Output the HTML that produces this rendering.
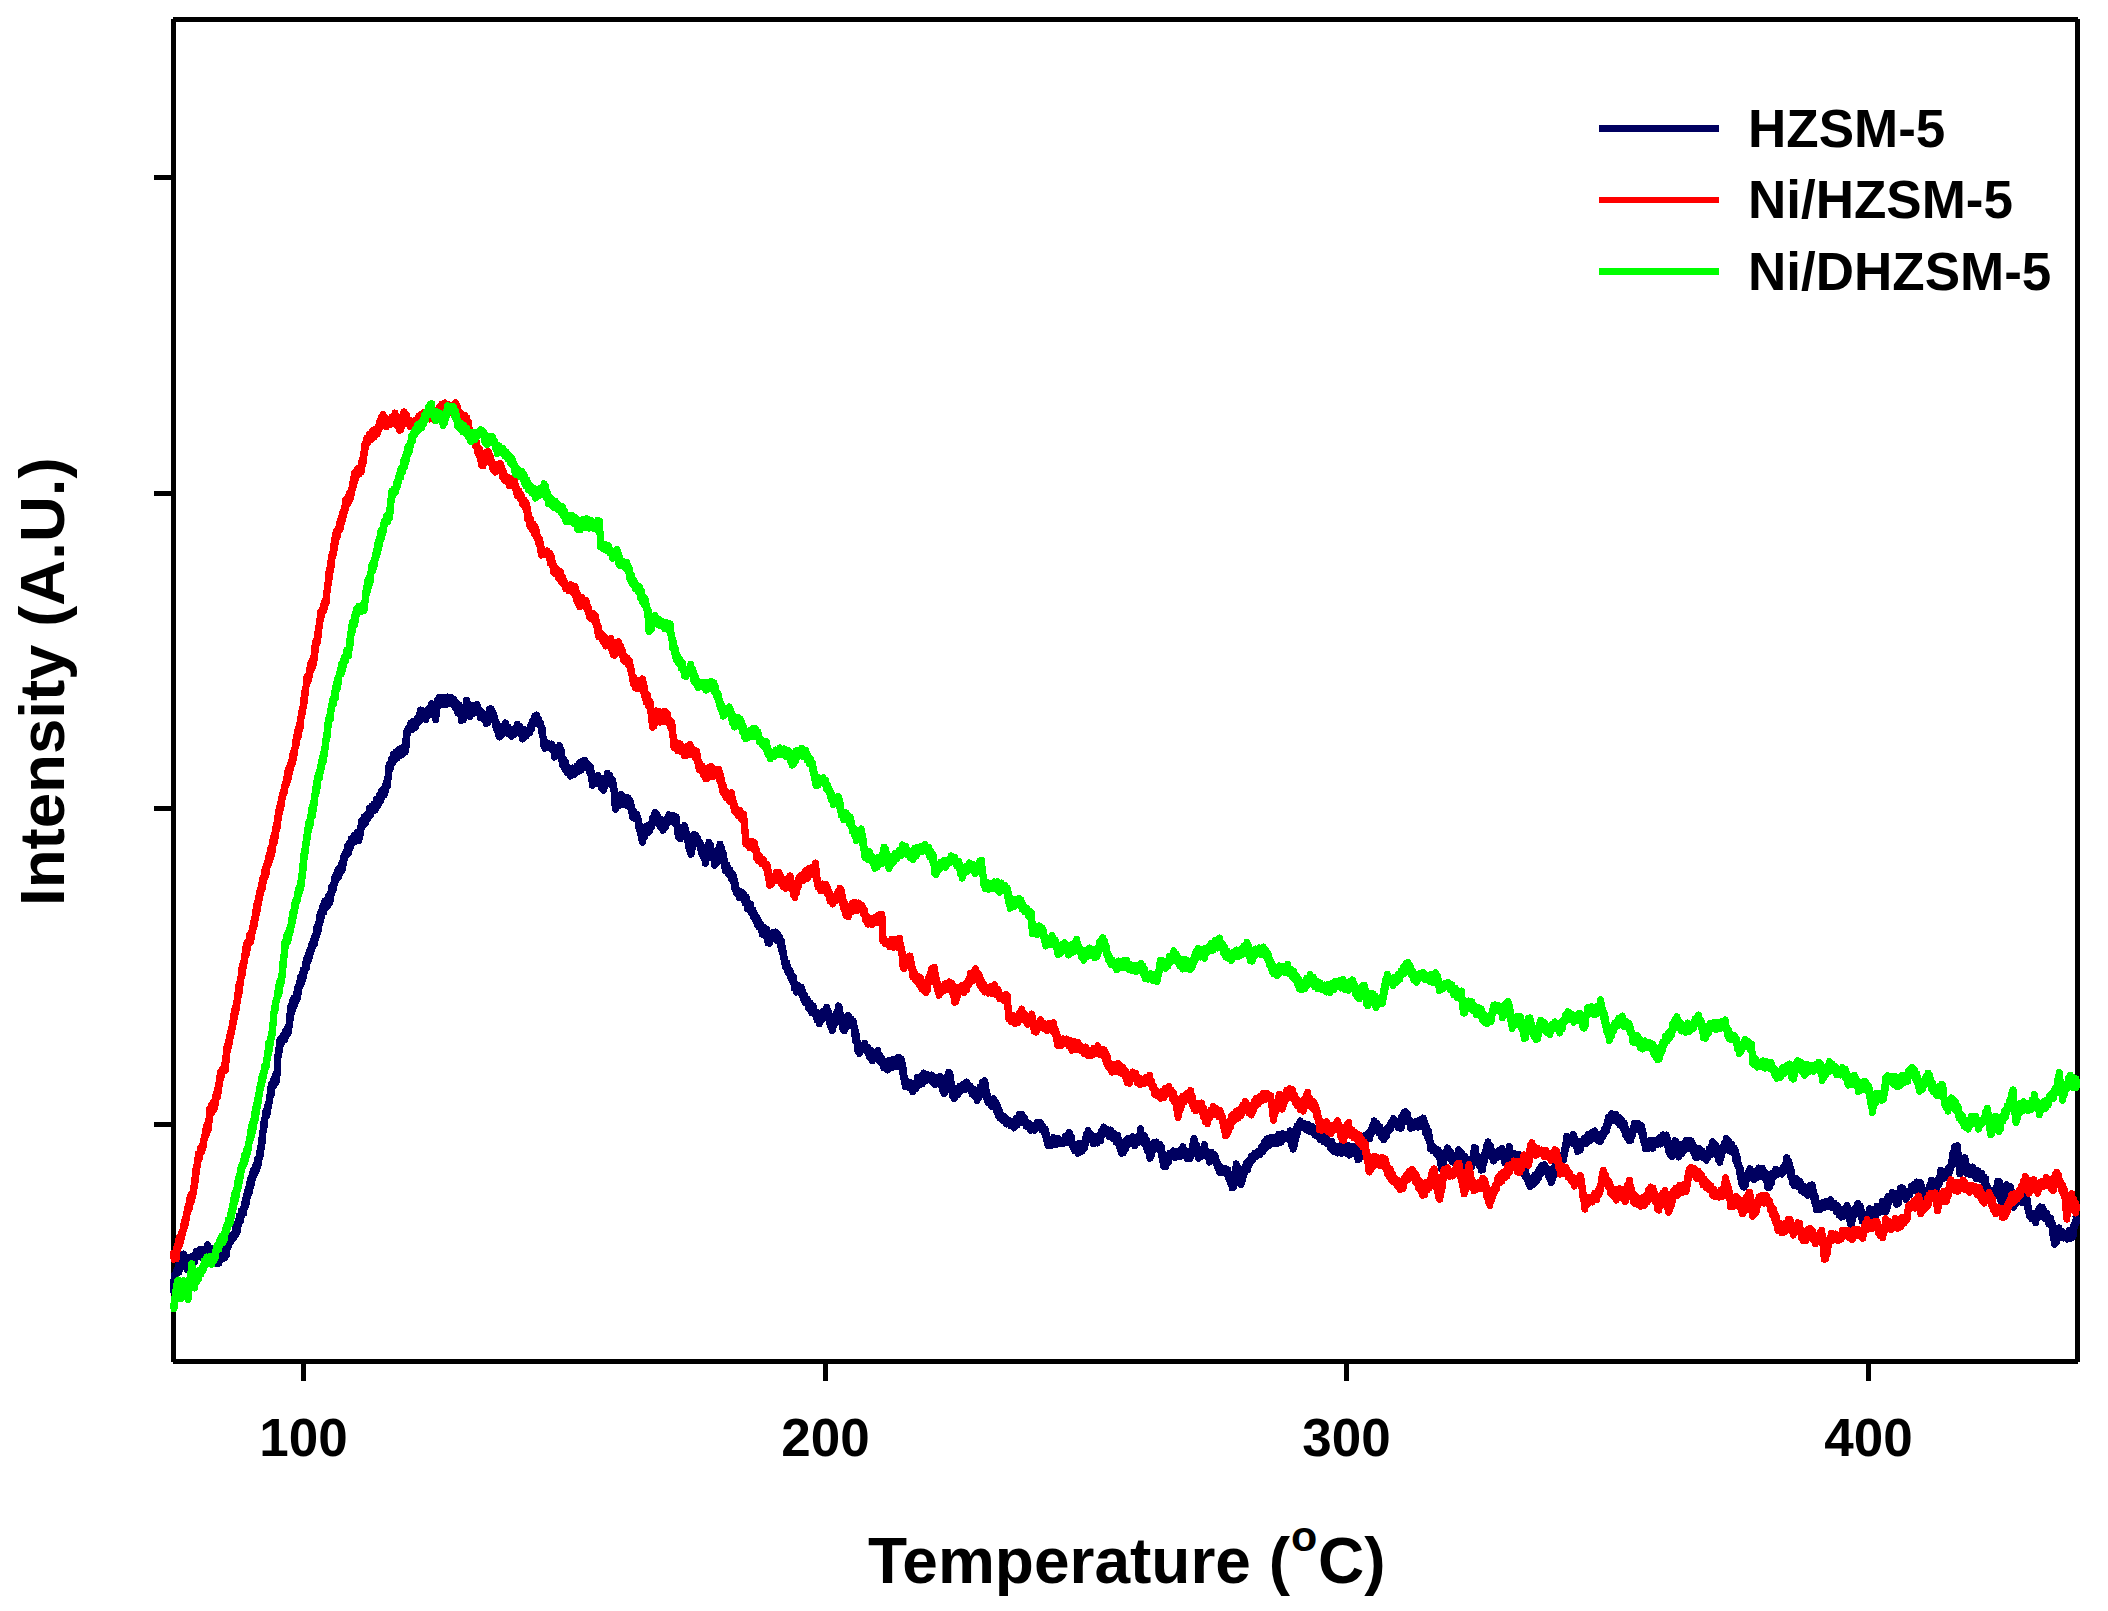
<!DOCTYPE html>
<html lang="en">
<head>
<meta charset="utf-8">
<title>NH3-TPD profiles</title>
<style>
html,body{margin:0;padding:0;background:#fff;}
body{width:2108px;height:1611px;overflow:hidden;}
svg{display:block;}
text{font-family:"Liberation Sans",Arial,Helvetica,sans-serif;font-weight:700;fill:#000;}
.tick{font-size:53px;}
.leg{font-size:53px;}
.ax{font-size:63px;}
.curve{fill:none;stroke-width:7;stroke-linejoin:round;stroke-linecap:round;}
</style>
</head>
<body>
<svg width="2108" height="1611" viewBox="0 0 2108 1611">
<rect x="0" y="0" width="2108" height="1611" fill="#ffffff"/>
<!-- frame -->
<g shape-rendering="crispEdges" fill="#000">
<rect x="173" y="17" width="1905" height="5"/>
<rect x="173" y="1359" width="1905" height="5"/>
<rect x="171" y="19" width="5" height="1343"/>
<rect x="2075" y="19" width="5" height="1343"/>
<!-- y ticks -->
<rect x="154" y="175" width="18" height="5"/>
<rect x="154" y="491" width="18" height="5"/>
<rect x="154" y="806" width="18" height="5"/>
<rect x="154" y="1122" width="18" height="5"/>
<!-- x ticks -->
<rect x="301" y="1363" width="5" height="18"/>
<rect x="823" y="1363" width="5" height="18"/>
<rect x="1344" y="1363" width="5" height="18"/>
<rect x="1866" y="1363" width="5" height="18"/>
</g>
<!-- curves -->
<g shape-rendering="crispEdges">
<polyline class="curve" stroke="#000060" points="173.5,1287.3 173.5,1291.3 173.5,1283.5 173.5,1287.7 173.6,1281.0 174.1,1283.1 174.6,1275.2 175.4,1280.9 176.3,1271.2 177.3,1273.0 178.3,1265.3 179.0,1272.0 179.5,1260.9 180.0,1267.3 180.6,1258.5 181.1,1263.7 181.6,1255.1 182.2,1259.4 183.5,1254.0 185.0,1260.9 185.4,1256.8 185.7,1265.5 186.1,1261.5 186.5,1267.7 186.8,1262.1 187.4,1269.7 188.3,1260.6 189.1,1264.7 189.9,1257.0 190.9,1263.0 192.6,1256.0 194.3,1262.5 196.2,1251.2 198.0,1256.5 199.9,1249.5 201.8,1257.6 203.7,1249.5 205.6,1253.4 207.5,1244.7 208.9,1253.4 210.1,1247.9 211.1,1258.1 212.1,1251.8 213.1,1260.6 214.1,1255.8 216.0,1263.8 217.9,1259.7 218.9,1263.3 220.0,1254.9 221.3,1259.1 222.9,1253.2 224.5,1258.0 225.5,1248.3 226.4,1255.4 227.2,1246.6 228.0,1247.5 229.3,1238.2 230.7,1241.8 232.0,1235.5 233.4,1238.6 234.5,1232.5 235.1,1235.0 235.7,1227.7 236.2,1234.3 236.8,1224.4 237.4,1231.3 238.0,1221.2 238.5,1225.4 239.2,1215.8 240.2,1221.9 241.2,1210.9 242.2,1215.2 243.0,1208.4 243.7,1213.4 244.4,1203.0 245.0,1207.8 245.7,1198.5 246.3,1203.3 246.9,1193.6 247.3,1197.2 247.8,1190.3 248.3,1194.5 248.8,1187.0 249.3,1192.2 249.8,1182.6 250.4,1187.6 251.0,1177.5 251.7,1183.8 252.3,1173.0 252.9,1178.9 253.5,1169.7 254.2,1175.1 255.2,1166.0 256.2,1171.0 257.2,1159.8 258.0,1166.8 258.4,1158.2 258.9,1160.3 259.3,1152.0 259.7,1157.8 260.1,1149.2 260.5,1154.7 260.9,1145.5 261.4,1148.4 261.7,1139.2 262.0,1142.1 262.2,1135.7 262.5,1141.6 262.7,1131.7 262.9,1135.7 263.2,1127.8 263.5,1130.8 263.8,1122.3 264.2,1126.7 264.5,1120.6 264.8,1122.8 265.2,1112.9 265.5,1117.2 266.0,1111.0 266.5,1116.4 267.1,1106.5 267.6,1113.1 268.1,1103.5 268.7,1107.1 269.2,1098.4 269.7,1101.5 270.1,1092.0 270.5,1095.9 270.9,1086.8 271.4,1094.0 271.8,1083.8 272.2,1087.9 273.1,1080.4 274.1,1085.5 275.1,1075.3 276.1,1082.4 276.9,1072.1 277.0,1078.7 277.1,1069.2 277.2,1074.6 277.3,1062.6 277.3,1067.0 277.4,1060.3 277.5,1063.9 277.6,1055.7 277.9,1058.9 278.3,1051.5 278.6,1055.7 279.0,1047.5 279.4,1051.3 279.7,1040.4 280.5,1045.3 281.4,1038.2 282.4,1042.2 283.4,1034.8 284.4,1040.3 285.4,1031.0 286.4,1035.9 287.4,1028.1 288.3,1033.1 289.1,1023.1 289.3,1026.2 289.5,1018.7 289.8,1023.6 290.0,1013.3 290.3,1019.2 290.5,1006.9 291.3,1013.8 292.1,1001.8 293.0,1009.2 293.8,997.9 294.6,1005.2 295.2,997.2 295.9,1001.5 296.5,992.9 297.2,999.0 297.8,987.1 298.5,992.9 299.1,982.3 299.8,987.0 300.4,976.9 301.1,983.9 301.7,975.3 302.4,980.0 303.1,969.9 303.7,976.4 304.4,968.7 305.0,971.1 305.7,962.7 306.3,968.2 307.0,957.4 307.6,962.1 308.3,954.1 309.0,959.3 309.7,951.2 310.4,953.3 311.1,945.7 311.9,949.9 312.6,943.1 313.3,946.1 314.0,937.9 314.8,943.4 315.5,935.5 316.1,937.2 316.6,928.2 317.2,934.3 317.7,925.8 318.2,930.4 318.8,922.0 319.3,924.8 319.8,915.3 320.4,921.2 320.9,911.7 321.9,916.5 322.8,906.2 323.8,912.5 324.8,901.3 325.7,908.0 326.7,899.7 327.7,906.0 328.6,896.0 329.4,903.5 330.1,893.2 330.8,899.2 331.5,887.2 332.2,892.3 332.9,884.9 333.6,889.2 334.3,878.4 334.9,883.8 335.9,874.7 336.9,879.0 337.9,869.7 338.9,877.1 339.9,867.5 340.7,871.7 341.4,863.7 342.1,869.9 342.7,861.9 343.4,864.7 344.0,855.6 344.7,859.1 345.4,852.7 346.3,855.4 347.3,846.4 348.3,853.6 349.2,843.0 350.2,848.7 351.2,838.8 352.6,843.6 354.3,835.5 356.0,841.4 357.6,832.3 359.0,840.5 359.5,830.9 360.0,836.2 360.6,827.0 361.1,830.0 361.7,821.2 362.6,826.3 364.0,817.2 365.3,823.8 366.7,814.6 368.0,818.8 369.4,808.0 370.6,815.6 371.8,806.3 372.9,811.3 374.0,803.9 375.1,810.4 376.4,799.6 378.1,805.7 379.8,794.5 380.8,800.9 381.6,790.5 382.4,796.9 383.3,789.5 384.1,795.2 385.0,785.8 385.8,791.0 386.7,781.6 387.5,785.8 387.8,777.6 388.0,780.7 388.2,773.2 388.4,776.9 388.6,769.8 388.8,771.9 389.0,764.8 390.0,769.7 391.2,759.3 392.4,763.5 393.6,754.0 394.8,759.8 396.0,751.9 397.5,757.9 399.5,748.9 401.6,755.1 403.7,746.5 405.1,752.4 405.4,742.3 405.7,748.6 405.9,739.1 406.2,746.9 406.5,738.2 406.8,739.9 407.0,730.3 407.4,735.1 408.5,728.3 409.6,730.5 410.7,723.0 411.8,729.7 413.7,721.1 415.7,727.2 417.7,717.7 418.6,722.3 419.3,714.2 420.0,720.7 420.7,709.9 422.0,716.5 424.0,711.0 425.9,719.7 427.5,709.9 428.5,715.2 429.5,707.7 430.5,712.6 431.5,703.7 432.3,711.4 433.2,708.6 434.1,715.9 434.9,711.9 435.6,719.6 436.0,708.4 436.4,714.9 436.9,704.0 437.3,707.3 437.7,699.5 438.2,704.6 439.4,697.5 441.4,704.8 443.4,697.5 445.3,704.9 447.3,697.0 449.2,703.1 451.1,697.3 453.0,704.6 454.2,699.6 455.4,707.7 456.6,703.2 457.9,712.8 459.1,704.9 459.9,714.6 460.7,710.5 461.5,720.6 462.4,714.4 463.1,720.0 463.7,711.2 464.4,716.3 465.1,707.2 465.7,709.7 466.4,700.1 467.5,710.6 468.8,704.4 470.1,716.6 471.5,709.4 473.1,713.9 474.7,705.4 476.0,711.9 477.1,704.4 478.2,712.6 479.3,709.2 480.6,717.7 482.0,712.1 483.4,719.1 484.8,716.1 486.3,723.8 486.9,715.4 487.6,722.7 488.2,713.1 488.9,717.7 489.5,709.0 490.2,712.8 491.2,708.8 492.1,717.4 493.0,712.5 493.9,720.3 494.8,717.4 495.6,726.4 496.3,721.9 497.0,730.3 497.7,725.9 498.3,734.7 499.0,727.8 499.7,737.1 500.7,731.5 501.9,734.6 503.1,726.0 504.3,732.5 505.5,722.8 506.7,732.7 507.9,726.6 509.1,734.2 510.3,729.4 511.5,736.4 512.7,731.7 513.9,734.8 515.1,728.8 516.3,733.1 517.5,724.2 518.6,732.1 519.6,726.1 520.6,734.3 521.6,731.1 522.6,739.0 524.3,729.5 526.1,736.2 527.9,730.1 529.6,732.6 530.6,725.5 531.6,729.5 532.6,721.2 533.6,724.3 534.7,716.2 535.7,723.7 536.7,715.0 537.6,723.6 538.6,718.4 539.6,725.5 540.6,722.4 541.2,729.3 541.6,726.6 542.1,735.5 542.5,729.3 543.0,738.3 543.4,737.4 543.9,746.7 544.3,742.1 545.1,748.4 547.3,742.9 549.4,747.7 551.5,744.0 552.5,749.7 553.5,746.9 554.5,757.2 556.1,747.8 557.8,753.0 559.5,745.3 560.1,753.4 560.5,748.5 560.8,756.0 561.1,749.6 561.5,759.5 561.8,754.4 562.5,764.7 563.6,758.4 564.7,768.7 565.8,762.4 566.9,772.7 568.1,768.1 570.2,776.3 572.4,768.0 574.6,774.2 576.8,766.1 578.2,771.7 579.5,762.9 580.9,770.3 582.2,761.2 583.6,764.9 584.9,760.1 586.3,767.4 587.7,764.1 589.1,771.3 590.2,766.1 590.6,774.0 591.1,770.5 591.5,779.7 592.0,775.9 592.4,785.4 594.1,779.6 596.1,783.5 598.1,775.4 599.4,783.7 600.5,778.1 601.6,787.8 602.6,780.7 603.7,790.4 604.6,783.0 605.3,786.2 606.0,777.8 606.7,782.5 607.5,773.1 608.6,780.4 609.8,775.1 611.0,784.2 612.3,779.3 613.5,790.3 613.9,784.7 614.1,794.2 614.2,789.1 614.4,798.5 614.5,793.5 614.7,802.3 614.9,798.4 615.0,805.8 615.2,801.0 615.5,809.3 616.7,799.4 617.9,806.0 619.1,799.4 620.3,805.0 621.5,794.4 622.9,802.8 624.6,797.3 626.2,805.2 627.9,797.8 629.3,806.6 630.2,800.4 631.1,811.1 631.9,806.9 632.8,817.5 633.8,810.9 635.3,818.7 636.8,814.0 638.1,821.8 638.5,819.4 638.9,828.3 639.3,824.4 639.7,830.1 640.1,827.9 640.5,834.1 640.9,830.2 641.3,838.3 641.7,834.7 642.5,842.4 643.7,830.7 644.8,837.2 646.0,826.8 647.2,833.4 648.4,825.6 649.5,831.7 650.6,823.9 651.7,827.1 652.7,817.6 653.8,820.0 654.9,812.4 655.9,820.4 657.1,814.4 658.2,823.8 659.4,818.3 660.6,827.2 661.7,819.7 662.9,830.4 664.1,825.1 665.3,827.9 666.5,819.4 667.7,822.9 669.0,814.7 670.3,821.6 672.5,815.2 674.7,823.2 676.1,816.9 676.5,824.7 676.9,820.6 677.2,831.0 677.6,825.9 677.9,834.0 678.3,828.7 678.7,836.9 679.1,831.7 680.5,838.8 681.9,830.1 683.2,834.9 684.6,825.5 685.4,833.9 685.9,829.1 686.5,837.5 687.0,833.2 687.6,840.9 688.1,835.8 688.6,847.3 689.2,841.0 689.7,850.4 690.3,845.7 690.8,854.2 691.4,847.0 691.8,853.0 692.3,844.2 692.8,847.6 693.3,838.6 693.8,844.3 694.3,834.4 694.7,842.2 695.5,834.8 696.6,841.6 697.7,837.9 698.7,844.1 699.8,842.3 700.5,849.1 701.2,844.3 702.0,854.3 702.8,847.9 703.7,857.7 704.5,855.3 705.3,863.3 706.0,851.9 706.8,859.1 707.5,850.4 708.3,852.2 709.0,842.2 709.8,851.2 710.6,844.6 711.4,855.1 712.2,850.8 713.0,857.9 713.8,853.9 714.6,865.4 715.4,856.3 716.2,863.7 716.9,855.6 717.7,858.7 718.4,849.6 719.2,856.4 720.0,844.1 720.6,851.5 721.2,847.1 721.8,856.2 722.4,851.5 723.0,861.0 723.6,854.5 724.2,866.1 724.8,860.6 725.5,870.9 727.0,864.9 728.4,874.1 729.9,869.8 731.3,878.4 732.6,873.8 733.0,881.3 733.5,875.9 734.0,883.9 734.4,879.3 734.9,889.3 735.3,883.8 736.2,893.0 737.7,889.9 739.3,897.9 740.9,891.6 742.4,898.4 743.9,893.9 745.1,903.2 746.2,897.0 747.4,908.5 748.5,902.6 749.7,909.9 750.7,904.2 751.7,913.4 752.7,909.4 753.7,917.5 754.6,913.3 755.6,920.6 756.5,916.3 757.4,925.3 758.4,920.0 759.3,927.3 760.5,924.1 762.3,934.3 764.2,927.6 766.0,936.1 766.7,929.3 767.1,937.6 767.6,935.3 768.0,943.0 768.5,939.8 769.7,943.3 770.8,935.3 771.9,938.7 773.1,932.7 774.2,935.9 775.3,932.0 776.5,940.1 777.6,933.5 778.7,940.8 779.9,937.0 780.8,946.7 781.3,940.6 781.7,949.9 782.1,945.4 782.6,952.9 783.0,949.6 783.4,958.3 783.8,954.7 784.3,962.9 784.7,958.5 785.7,967.4 786.8,962.7 788.0,972.7 789.1,969.1 790.2,976.6 791.1,973.0 791.7,979.6 792.3,975.2 793.0,982.2 793.6,976.7 794.2,988.2 794.8,983.0 796.3,992.2 798.3,985.5 800.2,992.5 801.1,987.0 802.0,995.4 802.9,991.7 803.9,1000.1 804.8,995.3 805.7,1003.0 807.1,998.8 808.6,1008.4 810.2,1002.7 811.8,1012.7 813.4,1006.1 814.8,1014.6 815.9,1011.7 817.1,1020.1 818.2,1014.8 819.3,1023.9 820.8,1013.0 822.3,1019.5 823.8,1011.3 825.4,1016.7 826.9,1007.1 827.9,1014.0 828.5,1011.3 829.0,1019.5 829.5,1016.2 830.0,1024.8 830.5,1017.7 831.1,1027.8 831.6,1022.7 832.3,1030.4 833.2,1021.6 834.1,1025.5 834.9,1016.3 835.8,1018.3 836.7,1012.1 837.5,1014.6 838.4,1005.7 839.2,1012.3 839.8,1008.3 840.4,1017.8 841.1,1014.2 841.7,1023.6 842.3,1018.6 842.9,1029.0 843.6,1022.6 844.3,1030.9 845.1,1019.9 845.9,1027.4 846.7,1018.4 847.5,1021.6 848.4,1015.5 849.6,1023.4 850.7,1018.4 851.9,1025.9 853.0,1020.7 854.2,1028.4 854.6,1026.7 855.0,1036.4 855.4,1030.6 855.7,1041.1 856.1,1033.9 856.5,1041.9 856.8,1037.0 857.2,1044.1 857.6,1042.0 857.9,1051.3 858.3,1046.2 859.7,1053.6 861.4,1045.5 863.1,1049.2 864.7,1043.3 866.2,1050.9 867.8,1047.1 869.3,1057.2 870.8,1050.1 872.6,1060.8 874.6,1052.7 876.7,1057.6 877.8,1050.4 878.8,1060.3 879.9,1055.6 881.0,1062.4 882.0,1058.3 883.9,1067.8 885.7,1065.2 887.6,1070.0 889.6,1060.1 891.6,1067.9 893.7,1059.3 895.9,1066.8 898.1,1057.0 900.3,1065.7 901.2,1058.9 901.7,1068.1 902.1,1062.5 902.6,1072.8 903.0,1066.9 903.5,1078.0 903.9,1072.5 904.4,1083.3 904.8,1078.2 905.3,1086.4 906.2,1080.8 908.4,1087.1 910.6,1082.4 912.7,1091.9 914.6,1083.5 916.1,1088.5 917.6,1077.3 919.1,1085.0 920.6,1076.7 922.1,1084.0 923.7,1073.0 925.9,1080.9 928.1,1075.0 930.3,1080.1 931.8,1075.0 933.1,1082.7 934.3,1076.9 935.5,1084.5 937.2,1077.8 939.0,1084.2 940.6,1076.4 941.3,1085.7 941.9,1080.2 942.6,1090.2 943.2,1084.1 943.9,1093.5 944.5,1088.1 945.1,1092.8 945.6,1085.9 946.2,1088.1 946.7,1080.0 947.3,1084.9 947.8,1075.8 948.3,1078.1 948.9,1072.2 949.4,1078.4 949.8,1073.9 950.2,1084.6 950.5,1076.4 950.9,1086.1 951.3,1082.9 951.7,1089.4 952.1,1086.1 952.5,1096.3 952.9,1091.2 954.2,1098.8 956.1,1089.0 958.0,1095.0 959.9,1086.3 961.5,1090.3 963.2,1084.2 964.8,1089.6 966.5,1081.9 968.4,1088.8 970.3,1086.1 972.1,1094.2 973.6,1089.0 974.8,1096.1 975.9,1092.8 977.1,1100.7 978.2,1093.2 979.3,1097.2 980.3,1086.8 981.4,1093.4 982.4,1082.2 983.5,1086.9 984.5,1080.7 985.0,1090.9 985.5,1084.2 986.0,1093.6 986.5,1090.8 987.0,1099.5 987.5,1094.9 988.0,1102.6 989.4,1098.8 991.4,1106.3 993.4,1098.6 995.3,1106.3 996.3,1102.7 996.9,1112.4 997.6,1105.9 998.3,1115.7 999.0,1109.3 999.9,1118.1 1001.5,1114.5 1003.1,1120.7 1004.7,1116.7 1006.6,1124.1 1008.5,1120.0 1010.5,1125.8 1012.4,1122.1 1014.1,1128.0 1015.8,1118.7 1017.4,1124.9 1019.1,1114.3 1020.7,1120.0 1022.0,1114.3 1023.3,1122.9 1024.6,1118.2 1026.3,1126.3 1028.5,1122.9 1030.7,1130.3 1032.8,1125.5 1034.8,1130.2 1036.9,1122.4 1038.9,1127.4 1040.4,1122.5 1041.7,1129.9 1042.9,1126.0 1044.2,1133.0 1045.2,1128.8 1045.9,1137.3 1046.5,1133.7 1047.1,1143.1 1047.7,1139.2 1048.4,1145.5 1049.2,1140.2 1051.3,1145.7 1053.5,1137.5 1055.6,1144.8 1057.7,1138.2 1059.9,1143.8 1062.0,1140.5 1063.8,1143.2 1065.6,1135.9 1067.4,1142.4 1069.2,1132.3 1070.5,1141.9 1071.6,1137.2 1072.7,1146.7 1073.8,1143.7 1074.9,1150.8 1076.1,1145.6 1077.9,1153.5 1080.0,1143.1 1082.2,1151.2 1084.1,1142.4 1084.7,1147.5 1085.4,1138.5 1086.0,1143.4 1086.7,1134.2 1087.3,1140.0 1088.2,1130.6 1089.9,1139.8 1091.6,1134.7 1093.3,1143.9 1095.2,1136.1 1097.3,1143.0 1099.4,1134.9 1100.7,1140.9 1101.8,1130.4 1102.8,1134.5 1103.8,1126.9 1105.5,1133.8 1107.3,1129.7 1109.1,1136.4 1110.9,1130.0 1112.7,1138.3 1114.4,1133.7 1116.1,1142.1 1117.8,1135.3 1119.2,1146.3 1119.8,1141.1 1120.4,1149.5 1121.0,1144.8 1121.6,1153.4 1122.3,1147.5 1123.3,1152.9 1124.3,1144.8 1125.4,1149.5 1126.4,1139.9 1127.4,1145.6 1128.4,1138.6 1130.4,1143.0 1132.5,1136.6 1134.6,1145.8 1136.4,1137.2 1137.4,1142.9 1138.4,1136.1 1139.4,1138.0 1140.5,1128.6 1141.5,1138.1 1142.5,1134.4 1143.5,1143.0 1144.5,1135.3 1145.5,1145.0 1146.3,1139.9 1147.0,1149.8 1147.7,1143.4 1148.5,1152.3 1149.2,1148.1 1149.9,1158.2 1150.7,1152.1 1151.5,1155.8 1152.3,1147.2 1153.2,1150.2 1154.0,1142.6 1154.8,1148.3 1156.4,1142.0 1158.2,1148.9 1160.1,1144.7 1161.0,1152.8 1161.5,1147.1 1161.9,1157.5 1162.3,1152.8 1162.7,1161.6 1163.1,1158.4 1163.5,1166.4 1164.5,1161.2 1165.9,1166.6 1167.3,1155.5 1168.6,1162.0 1170.0,1153.2 1171.4,1157.0 1173.4,1150.9 1175.3,1157.8 1177.3,1151.3 1178.9,1156.9 1180.2,1150.7 1181.6,1156.0 1182.9,1146.6 1184.3,1155.1 1185.8,1150.9 1187.2,1158.4 1188.7,1151.9 1190.1,1158.8 1190.6,1151.1 1191.2,1155.9 1191.8,1150.0 1192.3,1151.6 1192.9,1143.7 1193.5,1146.1 1194.0,1138.3 1194.7,1149.3 1195.4,1143.6 1196.0,1153.0 1196.7,1144.9 1197.4,1153.5 1198.1,1150.3 1198.7,1158.3 1199.8,1152.5 1201.0,1157.0 1202.2,1148.9 1203.3,1153.4 1204.5,1144.5 1205.5,1156.0 1206.5,1150.9 1207.4,1156.9 1208.4,1155.2 1209.7,1162.1 1211.5,1152.1 1213.3,1157.3 1214.4,1154.2 1215.1,1161.5 1215.8,1157.1 1216.5,1163.8 1217.2,1162.1 1217.9,1168.5 1218.6,1165.6 1219.3,1172.2 1220.6,1166.7 1222.7,1172.8 1224.9,1168.5 1227.0,1174.4 1227.9,1169.7 1228.7,1178.6 1229.6,1174.1 1230.4,1182.6 1231.3,1179.2 1232.1,1187.9 1233.0,1185.6 1233.4,1187.8 1233.8,1179.4 1234.2,1185.2 1234.6,1175.9 1235.0,1178.1 1235.4,1168.3 1235.8,1172.8 1236.2,1163.9 1236.6,1170.5 1237.1,1165.6 1237.6,1175.5 1238.1,1172.0 1238.7,1178.1 1239.2,1175.4 1239.7,1183.0 1240.3,1178.2 1241.0,1184.5 1241.7,1174.6 1242.5,1180.8 1243.3,1172.6 1244.0,1175.1 1244.8,1166.8 1245.6,1171.5 1246.5,1162.8 1247.7,1169.8 1248.9,1160.6 1250.2,1163.5 1251.4,1156.3 1252.7,1160.2 1254.5,1153.2 1256.4,1156.6 1258.4,1151.0 1260.1,1154.6 1261.4,1147.5 1262.8,1151.8 1264.2,1142.1 1265.5,1148.6 1266.9,1138.9 1268.7,1145.7 1270.5,1137.6 1272.3,1143.3 1274.3,1137.6 1276.5,1143.9 1278.6,1134.1 1280.7,1142.6 1282.8,1133.6 1284.9,1138.9 1287.0,1134.2 1289.1,1139.3 1290.2,1130.8 1290.7,1140.4 1291.3,1134.6 1291.9,1146.6 1292.5,1140.1 1293.1,1149.2 1293.6,1143.8 1294.0,1147.5 1294.4,1139.4 1294.9,1143.6 1295.3,1136.2 1295.7,1138.3 1296.1,1131.8 1296.5,1135.7 1297.0,1126.0 1297.4,1133.2 1297.8,1125.4 1298.2,1128.3 1300.1,1120.9 1302.2,1127.1 1304.2,1123.5 1306.3,1130.0 1308.4,1124.5 1310.5,1131.9 1312.5,1126.7 1314.5,1134.7 1315.8,1128.7 1317.1,1136.0 1318.4,1130.6 1320.1,1139.8 1321.9,1131.5 1323.7,1141.8 1325.4,1135.2 1327.1,1143.4 1328.7,1141.0 1330.3,1148.4 1331.9,1141.4 1333.8,1151.6 1335.7,1146.4 1337.6,1153.0 1339.6,1146.0 1341.7,1153.5 1343.8,1144.8 1346.0,1153.1 1347.8,1145.3 1349.4,1155.2 1350.9,1148.1 1352.2,1153.2 1353.5,1146.4 1354.6,1153.1 1355.5,1147.8 1356.3,1153.8 1357.1,1148.8 1358.0,1159.8 1358.8,1154.8 1359.3,1158.8 1359.8,1149.5 1360.2,1154.7 1360.6,1146.6 1361.1,1150.2 1361.5,1142.8 1361.9,1147.1 1362.4,1136.4 1362.8,1140.3 1364.7,1135.4 1366.6,1138.8 1368.4,1132.6 1369.8,1138.9 1370.7,1130.4 1371.5,1133.5 1372.4,1126.6 1373.2,1130.8 1374.1,1120.9 1375.6,1130.8 1377.0,1123.4 1378.5,1132.5 1379.9,1126.8 1381.2,1136.7 1382.5,1130.7 1383.9,1139.9 1385.2,1132.6 1386.4,1136.4 1387.7,1127.8 1388.8,1131.1 1389.8,1124.7 1390.7,1129.4 1391.7,1121.5 1392.6,1124.8 1393.6,1118.5 1395.0,1124.3 1396.7,1121.2 1398.3,1128.0 1400.0,1121.9 1401.1,1128.3 1401.7,1116.8 1402.3,1122.0 1402.9,1114.7 1403.5,1119.6 1404.1,1112.3 1404.8,1117.9 1405.8,1111.9 1406.7,1121.6 1407.7,1114.0 1408.6,1122.1 1409.6,1119.9 1410.6,1128.4 1412.0,1124.1 1414.0,1127.1 1416.0,1121.4 1417.9,1127.2 1419.9,1119.8 1421.9,1122.5 1423.1,1118.0 1424.0,1127.4 1424.9,1122.1 1425.7,1133.1 1426.6,1126.4 1427.5,1136.9 1428.3,1130.7 1428.7,1139.6 1429.2,1135.1 1429.6,1142.3 1430.1,1140.7 1430.5,1149.1 1430.9,1143.1 1432.6,1150.9 1434.5,1147.8 1436.4,1154.2 1438.2,1149.8 1439.8,1158.5 1440.1,1153.7 1440.4,1160.8 1440.7,1156.4 1441.0,1166.3 1441.3,1160.4 1441.6,1168.7 1442.4,1160.7 1443.2,1163.9 1444.0,1153.9 1444.8,1159.3 1445.6,1151.7 1446.4,1156.5 1447.4,1147.7 1448.9,1157.0 1450.4,1151.6 1452.0,1161.3 1453.5,1156.3 1455.0,1163.3 1456.2,1155.7 1457.3,1159.5 1458.5,1149.7 1460.1,1158.4 1461.8,1152.9 1463.4,1161.4 1465.0,1156.0 1466.6,1166.9 1468.2,1161.0 1469.7,1169.3 1471.1,1163.1 1471.6,1167.3 1472.2,1158.6 1472.7,1162.0 1473.2,1153.0 1473.8,1158.7 1474.3,1147.4 1474.8,1154.2 1475.6,1147.9 1476.4,1157.6 1477.2,1155.1 1478.0,1163.2 1478.8,1157.3 1479.6,1166.3 1480.4,1161.0 1481.2,1170.2 1481.8,1164.7 1482.5,1169.8 1483.1,1158.9 1483.7,1164.2 1484.3,1154.7 1484.9,1160.3 1485.5,1151.3 1486.2,1153.8 1486.8,1145.0 1487.4,1149.6 1488.0,1141.9 1489.1,1150.1 1490.2,1145.1 1491.3,1157.1 1492.4,1150.6 1493.5,1161.1 1495.1,1154.1 1497.0,1157.8 1498.9,1150.5 1500.9,1152.9 1501.9,1148.4 1502.9,1157.7 1503.9,1154.5 1504.9,1163.1 1505.7,1152.7 1506.6,1160.7 1507.4,1151.3 1508.2,1153.9 1509.4,1146.6 1510.7,1156.2 1512.1,1152.8 1513.4,1161.7 1515.2,1154.0 1517.3,1160.8 1519.5,1154.6 1521.6,1162.5 1522.2,1158.7 1522.8,1168.2 1523.3,1164.5 1523.8,1172.8 1524.4,1166.4 1524.9,1176.4 1525.5,1169.8 1526.3,1178.1 1527.2,1175.6 1528.1,1182.2 1529.0,1178.0 1529.9,1186.7 1531.5,1179.9 1533.2,1184.9 1534.9,1175.1 1536.6,1181.3 1537.7,1172.1 1538.7,1178.0 1539.7,1168.6 1540.7,1174.5 1541.7,1165.8 1542.7,1169.9 1544.4,1164.8 1546.1,1172.2 1547.7,1168.4 1548.9,1176.8 1550.0,1173.1 1551.2,1182.8 1552.2,1177.1 1553.0,1178.4 1553.7,1167.9 1554.4,1173.0 1555.2,1165.2 1555.9,1171.5 1557.4,1161.5 1558.9,1166.3 1560.4,1158.4 1561.9,1162.7 1563.5,1154.1 1563.9,1159.4 1564.4,1149.0 1564.8,1153.4 1565.2,1144.7 1565.6,1150.1 1566.1,1140.8 1566.5,1146.3 1566.9,1136.2 1567.7,1141.7 1569.8,1137.6 1571.9,1142.9 1573.4,1134.6 1574.2,1143.8 1575.1,1138.2 1575.9,1146.2 1576.8,1142.6 1577.6,1151.6 1578.8,1142.8 1580.1,1150.1 1581.4,1141.1 1582.7,1144.5 1584.3,1138.0 1586.3,1143.6 1588.2,1134.6 1590.1,1140.5 1591.7,1132.8 1593.2,1138.1 1594.8,1130.8 1596.1,1138.5 1597.1,1134.0 1598.1,1140.4 1599.2,1138.6 1600.3,1141.6 1601.6,1133.7 1602.9,1137.0 1604.1,1129.8 1605.4,1132.6 1606.3,1125.5 1606.9,1130.3 1607.4,1121.1 1608.0,1126.2 1608.5,1117.3 1609.4,1121.6 1611.5,1113.7 1613.7,1120.2 1615.8,1114.3 1617.4,1122.1 1618.8,1117.0 1620.1,1125.1 1621.5,1119.4 1622.8,1128.0 1624.2,1123.0 1625.2,1134.7 1626.2,1128.4 1627.2,1137.9 1628.2,1132.0 1629.3,1140.9 1630.2,1135.2 1630.9,1140.1 1631.6,1131.6 1632.4,1136.1 1633.1,1127.7 1633.8,1131.1 1634.5,1123.4 1636.2,1128.5 1638.1,1123.4 1640.0,1130.8 1641.5,1125.3 1642.1,1136.8 1642.7,1130.5 1643.2,1140.1 1643.8,1134.4 1644.4,1144.2 1645.0,1140.3 1645.6,1148.9 1646.6,1142.4 1648.7,1148.6 1650.8,1140.3 1652.9,1148.3 1655.0,1140.1 1657.0,1144.5 1659.1,1137.9 1661.1,1144.0 1663.1,1134.9 1665.0,1140.0 1666.4,1135.0 1667.0,1145.7 1667.7,1139.1 1668.4,1150.6 1669.1,1143.8 1669.8,1153.9 1670.5,1148.1 1671.2,1155.5 1671.8,1151.0 1672.3,1156.4 1672.9,1146.9 1673.4,1151.3 1673.9,1143.0 1674.4,1149.0 1675.0,1140.8 1675.5,1145.2 1676.1,1141.6 1676.6,1149.3 1677.2,1143.5 1677.8,1155.0 1678.3,1148.2 1678.9,1157.1 1680.2,1149.7 1681.7,1153.8 1683.2,1143.8 1684.7,1150.5 1686.2,1140.4 1687.7,1148.9 1689.2,1140.1 1690.3,1145.9 1691.2,1140.7 1692.1,1149.7 1693.0,1144.2 1693.9,1152.9 1694.7,1149.3 1695.6,1157.5 1696.6,1154.4 1697.8,1157.5 1699.1,1148.3 1700.4,1155.6 1701.9,1150.5 1703.3,1157.4 1704.8,1154.1 1706.3,1160.4 1707.3,1153.8 1708.2,1157.1 1709.1,1148.9 1710.0,1155.5 1710.9,1147.2 1711.8,1150.8 1712.7,1141.7 1713.6,1146.6 1714.4,1143.3 1715.1,1150.4 1715.9,1145.3 1716.7,1155.1 1717.4,1152.3 1718.2,1159.8 1719.0,1155.6 1719.9,1162.2 1720.8,1152.0 1721.7,1156.4 1722.6,1147.1 1723.5,1151.5 1724.4,1143.4 1725.3,1147.2 1726.2,1138.6 1727.4,1145.4 1728.7,1140.6 1730.1,1151.2 1731.5,1144.0 1732.8,1151.8 1734.2,1148.0 1734.8,1155.1 1735.4,1150.7 1736.0,1161.7 1736.6,1155.2 1737.2,1164.4 1737.8,1158.5 1738.3,1167.1 1738.9,1164.3 1739.5,1172.7 1740.1,1168.0 1740.7,1177.9 1741.3,1174.3 1741.8,1183.3 1742.4,1179.7 1743.0,1186.7 1743.6,1184.1 1744.3,1187.3 1745.1,1179.3 1745.9,1184.1 1746.6,1174.6 1747.4,1179.6 1748.2,1172.5 1749.0,1177.4 1750.0,1168.6 1751.4,1175.9 1752.9,1172.0 1754.3,1179.8 1755.8,1171.2 1757.3,1177.8 1758.8,1168.0 1760.6,1176.2 1762.5,1168.2 1764.4,1177.8 1765.3,1172.2 1766.1,1180.3 1766.9,1177.5 1767.6,1187.2 1768.4,1182.0 1769.5,1187.5 1770.6,1178.1 1771.6,1182.8 1772.7,1173.0 1773.8,1177.4 1775.7,1169.4 1777.9,1174.3 1780.1,1170.3 1781.9,1174.1 1782.9,1167.8 1783.9,1171.7 1784.9,1164.4 1785.8,1166.3 1786.8,1157.7 1787.6,1166.5 1788.2,1160.3 1788.8,1168.5 1789.3,1163.2 1789.9,1170.7 1790.5,1167.6 1791.0,1177.7 1791.6,1171.5 1792.2,1182.4 1792.7,1177.1 1794.1,1185.2 1796.2,1178.1 1798.3,1187.0 1800.0,1181.5 1801.5,1191.0 1803.1,1185.8 1804.7,1193.1 1806.2,1188.6 1807.8,1195.3 1809.3,1185.9 1810.9,1189.6 1812.1,1184.9 1812.6,1194.0 1813.1,1189.5 1813.6,1197.9 1814.1,1194.3 1814.6,1201.8 1815.1,1195.6 1815.6,1204.8 1816.1,1201.3 1816.6,1209.7 1817.9,1202.7 1820.0,1209.7 1822.1,1202.7 1824.2,1207.4 1826.4,1201.2 1828.5,1206.9 1830.6,1199.8 1832.5,1207.7 1834.4,1203.1 1836.2,1211.9 1837.7,1205.7 1839.0,1215.1 1840.3,1208.7 1841.5,1217.1 1842.7,1212.5 1843.8,1216.5 1844.8,1208.4 1845.9,1214.1 1847.0,1205.5 1847.8,1212.2 1848.4,1208.5 1848.9,1218.0 1849.5,1212.3 1850.1,1223.0 1850.7,1218.4 1851.3,1225.3 1852.0,1215.3 1852.6,1220.1 1853.2,1210.9 1853.8,1215.5 1854.5,1208.6 1855.6,1211.2 1857.8,1203.4 1859.5,1213.0 1860.2,1206.1 1860.8,1215.3 1861.5,1210.4 1862.1,1221.0 1862.7,1215.0 1864.0,1221.2 1865.8,1214.7 1867.6,1220.3 1869.4,1208.7 1871.5,1217.5 1873.7,1209.3 1875.8,1216.1 1877.1,1206.0 1878.5,1213.0 1879.8,1206.0 1881.1,1211.6 1882.4,1201.6 1883.4,1211.4 1884.4,1204.9 1885.4,1212.3 1886.2,1207.1 1886.6,1209.6 1887.0,1202.5 1887.4,1207.4 1887.9,1197.2 1888.3,1203.4 1888.7,1196.3 1889.9,1200.8 1892.1,1192.6 1894.3,1199.8 1895.5,1193.7 1896.6,1204.3 1897.7,1198.2 1898.4,1203.5 1899.0,1193.6 1899.5,1198.2 1900.1,1188.9 1900.7,1193.7 1901.2,1187.8 1901.8,1190.1 1902.8,1188.0 1903.9,1195.7 1905.0,1190.9 1906.1,1199.4 1908.0,1191.2 1909.8,1194.5 1911.4,1186.2 1912.7,1191.0 1914.0,1184.5 1915.4,1190.1 1917.1,1182.0 1919.3,1187.5 1920.8,1182.8 1921.3,1190.0 1921.9,1186.5 1922.4,1196.4 1923.0,1191.9 1923.9,1200.9 1925.5,1193.3 1927.2,1198.0 1928.4,1189.5 1929.2,1193.1 1930.0,1184.3 1930.8,1189.5 1931.6,1180.3 1932.5,1184.8 1933.5,1181.0 1934.6,1189.0 1935.6,1183.0 1936.5,1190.0 1937.4,1180.2 1938.3,1185.5 1939.2,1177.2 1940.0,1182.3 1940.9,1170.2 1942.9,1178.6 1945.0,1171.1 1947.0,1177.7 1947.9,1168.7 1948.9,1175.1 1949.8,1166.5 1950.7,1169.1 1951.6,1161.2 1952.1,1165.0 1952.6,1153.6 1953.1,1159.7 1953.5,1151.7 1954.0,1156.6 1954.5,1146.6 1955.3,1154.5 1956.5,1146.2 1957.2,1151.1 1957.4,1145.8 1957.7,1156.2 1957.9,1149.1 1958.2,1160.8 1958.4,1154.1 1958.7,1164.8 1958.9,1160.2 1959.2,1167.6 1959.4,1163.8 1959.7,1173.8 1959.9,1167.5 1960.4,1172.9 1961.0,1163.3 1961.7,1170.2 1962.3,1160.2 1962.9,1167.3 1963.5,1158.1 1964.2,1162.7 1964.7,1157.7 1965.2,1164.6 1965.7,1160.7 1966.1,1169.0 1966.6,1165.1 1967.1,1173.4 1968.3,1166.3 1970.5,1174.7 1972.6,1166.9 1974.0,1175.5 1975.2,1170.1 1976.5,1178.9 1978.2,1170.9 1980.3,1179.4 1981.9,1173.2 1983.0,1180.0 1984.0,1176.6 1985.0,1184.6 1985.7,1178.6 1986.4,1187.7 1987.1,1185.4 1987.8,1194.6 1989.2,1189.9 1991.0,1198.4 1992.7,1192.1 1994.4,1196.5 1995.9,1187.8 1996.9,1191.5 1997.9,1181.0 1998.8,1188.9 1999.3,1181.4 1999.7,1191.0 2000.2,1188.2 2000.7,1199.9 2001.2,1192.8 2001.7,1202.1 2002.6,1192.7 2003.5,1197.8 2004.5,1188.9 2005.4,1194.6 2006.7,1184.8 2008.6,1191.7 2010.5,1186.3 2011.4,1195.1 2011.9,1191.8 2012.5,1204.2 2013.0,1197.7 2013.5,1207.3 2014.2,1201.5 2015.6,1203.9 2017.0,1195.6 2018.4,1201.0 2020.2,1195.9 2022.3,1202.8 2024.4,1195.0 2026.5,1202.9 2027.3,1199.3 2027.8,1208.5 2028.2,1205.8 2028.6,1212.0 2029.1,1210.2 2029.5,1216.4 2029.9,1212.2 2031.7,1218.9 2033.7,1213.1 2035.7,1222.8 2037.1,1213.7 2037.9,1218.0 2038.7,1209.2 2039.5,1215.1 2040.4,1206.8 2041.2,1212.9 2042.2,1207.1 2043.2,1217.2 2044.2,1210.7 2045.2,1218.8 2046.8,1213.0 2048.8,1224.0 2050.7,1218.2 2051.8,1225.3 2052.0,1222.6 2052.3,1229.8 2052.6,1223.9 2052.9,1234.8 2053.2,1230.3 2053.4,1236.9 2053.7,1233.7 2054.0,1240.5 2054.3,1237.9 2054.7,1244.3 2055.5,1236.7 2056.4,1242.5 2057.3,1230.7 2058.1,1236.6 2059.0,1227.9 2060.5,1237.0 2062.0,1231.4 2063.5,1238.0 2065.4,1233.1 2067.2,1239.3 2069.0,1230.8 2070.7,1238.6 2071.9,1232.9 2072.4,1237.5 2073.0,1228.6 2073.5,1234.7 2074.0,1224.4 2074.6,1226.9 2075.7,1220.4 2076.0,1223.7 2076.0,1216.5 2076.0,1223.7"/>
<polyline class="curve" stroke="#ff0000" points="173.5,1252.9 174.1,1259.3 175.7,1253.1 176.4,1258.7 177.0,1245.9 177.7,1249.9 178.3,1240.2 179.0,1246.8 179.7,1236.5 180.4,1242.1 181.1,1233.4 181.6,1238.2 182.2,1232.0 182.7,1234.2 183.2,1226.0 183.8,1229.9 184.3,1221.7 184.8,1226.3 185.3,1217.9 185.9,1223.4 186.4,1212.9 186.9,1216.7 187.5,1208.5 188.0,1212.3 188.5,1205.5 189.1,1209.4 189.6,1199.3 190.3,1203.7 190.9,1194.7 191.6,1201.3 192.2,1193.3 192.9,1196.7 193.5,1186.9 193.8,1190.8 194.1,1183.4 194.4,1187.1 194.7,1178.3 195.0,1183.9 195.3,1173.7 195.6,1179.2 195.9,1169.2 196.1,1174.0 196.4,1167.9 196.7,1171.2 197.0,1163.8 197.2,1166.4 197.5,1159.1 197.8,1163.2 198.3,1153.8 199.4,1159.0 200.5,1148.0 201.6,1152.5 202.6,1144.7 203.0,1148.1 203.4,1139.8 203.8,1144.6 204.2,1136.8 204.6,1139.4 205.3,1130.4 206.2,1135.3 207.0,1124.8 207.8,1130.6 208.6,1122.7 208.8,1128.1 209.0,1118.0 209.2,1122.2 209.4,1114.1 209.6,1119.0 209.8,1108.8 210.2,1115.1 211.2,1105.0 212.2,1112.2 213.2,1102.2 214.1,1109.2 214.9,1101.0 215.4,1104.2 216.0,1094.3 216.5,1098.0 217.1,1089.7 217.6,1096.5 218.1,1085.3 218.5,1091.9 218.9,1082.7 219.3,1085.7 219.8,1075.9 220.2,1080.4 220.6,1071.7 221.5,1076.9 222.5,1068.7 223.5,1071.3 224.5,1064.1 225.3,1070.4 225.5,1058.7 225.7,1064.7 225.9,1056.2 226.1,1061.9 226.2,1053.5 226.4,1056.5 226.6,1047.9 226.8,1055.3 227.3,1045.0 227.9,1050.3 228.5,1041.0 229.1,1044.1 229.7,1035.7 230.3,1037.5 230.8,1031.3 231.1,1034.2 231.5,1028.0 231.9,1032.2 232.2,1023.8 232.6,1028.1 233.0,1020.0 233.4,1023.2 233.9,1014.0 234.4,1018.7 234.9,1008.9 235.3,1013.9 235.8,1006.2 236.2,1010.3 236.5,1001.7 236.9,1007.5 237.3,996.8 237.6,1001.7 238.0,992.4 238.4,996.1 238.7,985.4 239.1,993.1 239.4,983.5 239.8,988.3 240.2,980.0 240.5,983.8 240.9,976.4 241.3,978.1 241.7,969.1 242.1,974.9 242.5,964.7 242.9,970.7 243.3,963.0 243.7,966.6 244.1,957.9 244.5,962.2 244.9,953.9 245.3,956.6 245.7,947.4 246.2,954.4 246.9,943.1 247.6,949.3 248.2,941.5 248.9,944.0 249.5,934.6 250.2,942.4 250.9,932.4 251.5,938.0 252.2,927.8 252.8,931.7 253.5,922.5 254.0,927.7 254.3,918.5 254.7,924.5 255.1,914.6 255.5,919.3 255.9,909.5 256.2,914.8 256.6,905.1 257.0,912.6 257.4,903.1 257.8,907.5 258.1,897.3 258.6,903.5 259.1,892.7 259.6,898.8 260.2,889.8 260.7,893.7 261.2,884.2 261.8,889.5 262.3,879.7 262.8,887.7 263.4,877.4 263.9,881.9 264.4,871.5 265.1,877.4 265.7,868.0 266.4,872.9 267.0,863.2 267.7,866.0 268.4,857.4 269.0,863.2 269.7,854.2 270.2,858.7 270.7,848.7 271.1,856.3 271.6,847.1 272.1,852.2 272.6,841.1 273.1,845.0 273.6,836.8 274.1,843.7 274.6,833.5 275.0,839.2 275.4,828.3 275.8,832.4 276.2,826.0 276.6,829.8 276.9,823.0 277.3,827.1 277.7,816.4 278.1,820.2 278.5,811.0 278.9,816.1 279.2,807.9 279.6,812.7 280.1,805.3 280.6,808.7 281.1,799.5 281.6,804.9 282.1,794.6 282.7,797.8 283.2,791.7 283.7,793.4 284.2,786.1 284.8,791.6 285.3,783.6 285.8,786.2 286.4,777.8 287.0,783.6 287.6,771.6 288.3,778.7 288.9,767.8 289.5,773.0 290.2,764.6 290.8,768.7 291.4,760.9 292.1,764.2 292.5,755.2 293.0,761.6 293.4,752.2 293.9,758.0 294.3,749.5 294.8,753.1 295.2,743.5 295.7,746.9 296.1,737.0 296.6,743.6 297.0,735.1 297.4,738.7 297.8,730.5 298.3,736.7 298.7,727.8 299.1,731.8 299.6,723.6 300.0,728.8 300.4,718.6 300.8,722.7 301.3,713.9 301.7,716.3 302.1,708.4 302.5,713.2 302.9,706.3 303.3,708.2 303.7,698.7 304.0,704.5 304.3,693.8 304.6,700.6 304.9,691.0 305.2,694.9 305.5,687.6 305.8,691.5 306.2,683.4 306.5,685.0 307.0,676.5 307.6,681.9 308.3,675.7 308.9,679.9 309.5,669.3 310.2,672.6 310.8,663.1 311.5,668.9 312.1,660.9 312.8,666.2 313.2,659.0 313.6,664.3 313.9,655.3 314.3,659.1 314.7,647.2 315.1,652.2 315.5,641.9 315.9,646.5 316.3,640.0 316.7,644.3 317.1,637.5 317.4,642.6 317.8,632.0 318.2,637.1 318.5,627.3 318.9,630.1 319.3,621.8 319.6,627.1 320.0,618.5 320.3,620.8 320.7,612.0 321.1,617.2 321.9,609.8 322.6,612.4 323.3,605.3 324.0,610.2 324.7,601.3 325.4,604.6 326.1,596.8 326.3,602.9 326.6,591.8 326.9,597.1 327.1,585.8 327.4,591.5 327.7,583.3 327.9,588.8 328.2,581.5 328.5,582.5 328.7,572.8 329.0,579.1 329.4,569.6 329.7,578.0 330.1,565.2 330.4,570.8 330.8,561.1 331.1,567.0 331.5,556.1 331.8,560.7 332.2,553.2 332.6,557.2 333.0,552.0 333.4,554.7 333.9,543.8 334.3,549.5 334.7,538.7 335.1,543.0 335.5,534.4 335.9,542.0 336.4,531.5 337.1,537.4 337.9,528.9 338.6,531.2 339.3,522.9 340.1,529.1 340.8,519.6 341.5,523.7 342.1,513.6 342.7,520.2 343.3,511.8 343.9,515.5 344.5,507.3 345.1,510.6 345.7,500.1 346.3,506.0 347.1,498.2 348.1,503.4 349.1,493.4 350.0,499.8 350.9,491.2 351.3,494.8 351.8,488.0 352.3,490.5 352.7,482.9 353.2,487.2 353.7,477.3 354.2,482.8 354.6,472.5 355.8,478.7 357.4,468.8 359.0,474.3 360.5,467.1 361.4,472.0 361.9,460.8 362.4,465.0 363.0,457.4 363.2,462.7 363.5,454.8 363.7,460.4 363.9,451.8 364.2,454.7 364.4,446.3 364.6,452.3 364.9,443.6 365.6,448.3 366.9,438.1 368.2,442.6 369.4,434.4 370.7,440.1 372.3,430.9 374.0,437.2 375.6,429.5 377.3,434.1 378.4,426.2 379.2,429.7 379.9,421.0 380.7,423.9 381.4,416.9 382.2,420.0 383.2,414.5 384.3,422.8 385.4,417.4 386.5,426.7 388.3,419.7 390.1,424.4 391.8,417.3 393.6,420.4 395.1,413.0 396.0,424.4 396.9,416.8 397.9,426.1 398.8,423.8 399.8,430.6 400.4,424.8 401.0,429.1 401.6,422.5 402.3,424.5 402.9,414.3 403.5,419.8 404.2,411.8 405.3,418.5 406.5,414.7 407.7,423.7 408.8,419.6 410.0,426.3 411.2,422.9 413.0,427.1 414.8,420.7 416.6,424.1 418.4,416.4 420.0,422.3 421.4,414.5 422.9,419.7 424.3,412.5 425.8,418.3 427.8,409.6 429.8,419.0 431.7,413.1 433.6,419.3 435.4,411.4 437.2,416.3 438.9,407.5 440.4,412.8 441.9,404.2 443.3,407.0 444.9,402.9 446.6,411.6 448.3,404.3 450.1,412.9 452.0,406.0 453.9,411.0 455.5,402.6 456.3,411.3 457.2,406.0 458.0,414.1 458.8,411.3 459.7,420.2 460.9,413.3 463.0,423.0 465.2,415.4 466.1,425.5 466.9,417.9 467.7,428.0 468.5,421.9 469.3,431.5 470.1,429.9 471.1,438.9 472.2,434.0 473.3,441.5 474.5,435.6 475.6,446.2 476.7,442.2 477.4,451.7 478.1,447.4 478.8,455.0 479.5,448.8 480.1,459.1 480.8,455.0 481.5,464.9 482.2,457.0 483.0,466.0 484.2,454.2 485.3,462.1 486.5,452.1 487.7,458.5 488.6,451.5 489.5,459.3 490.3,455.8 491.2,463.5 492.1,461.4 492.9,469.5 493.8,464.7 495.3,472.2 497.2,464.4 499.0,469.6 500.3,463.4 501.0,470.9 501.7,467.3 502.4,476.9 503.1,470.2 503.8,478.9 504.5,474.7 505.2,480.6 507.0,476.8 509.2,485.5 511.3,478.2 513.4,486.1 514.2,479.6 514.9,488.4 515.6,485.1 516.3,492.5 517.0,488.3 517.7,496.0 518.9,490.8 520.1,498.9 521.4,494.9 522.6,504.0 523.8,499.6 525.0,507.4 526.1,502.2 526.6,511.5 527.1,506.7 527.7,519.0 528.2,513.3 528.8,520.3 529.3,517.1 529.9,526.5 530.8,519.5 531.9,529.4 533.0,523.6 534.1,533.7 535.1,526.2 536.1,536.7 536.8,531.4 537.5,539.4 538.2,537.6 538.9,543.9 539.6,539.5 540.2,550.1 540.9,543.8 541.6,555.2 542.9,550.5 545.0,554.8 547.1,550.9 548.7,556.5 549.5,552.9 550.2,563.2 551.0,555.6 551.8,564.9 552.5,561.3 553.3,571.7 554.0,565.3 555.2,573.7 556.8,568.9 558.5,578.4 560.2,571.3 561.8,582.4 562.8,576.8 563.7,584.3 564.7,581.8 565.7,588.7 566.7,585.2 568.6,590.8 570.8,584.5 572.9,592.6 575.0,586.4 575.6,595.7 576.2,591.4 576.8,600.3 577.4,594.0 578.0,603.7 578.6,599.3 579.9,606.7 582.1,597.4 584.3,603.8 586.1,600.1 586.8,609.2 587.4,604.8 588.0,611.8 588.7,608.5 589.3,616.5 589.9,613.3 591.5,619.0 593.7,613.8 594.8,621.7 595.4,615.6 596.1,625.1 596.7,621.4 597.4,631.4 598.0,625.2 598.7,636.7 599.3,631.3 600.5,637.4 601.8,634.4 603.1,641.8 604.4,636.5 605.8,646.1 607.9,639.1 609.9,646.5 611.0,638.5 611.5,649.0 611.9,642.6 612.4,651.4 612.9,647.2 613.3,654.6 613.8,650.2 614.6,655.4 615.5,647.9 616.3,651.1 617.1,642.8 617.9,647.3 618.8,641.8 619.7,649.0 620.6,645.9 621.4,654.1 622.3,650.1 623.2,660.0 624.1,655.6 625.4,662.0 626.7,657.4 628.0,664.4 629.4,660.5 630.2,669.7 630.7,666.4 631.2,673.8 631.7,670.1 632.2,678.7 632.6,676.5 633.1,683.4 634.0,677.5 635.2,687.7 636.4,679.7 637.5,688.8 638.7,683.4 639.7,688.4 640.8,682.3 641.9,684.7 642.7,678.9 643.1,688.4 643.6,683.2 644.0,694.1 644.5,686.8 644.9,697.1 645.3,692.3 646.1,701.9 647.4,694.7 648.6,706.2 649.7,700.9 650.1,708.6 650.4,702.6 650.7,712.0 651.0,708.3 651.3,717.6 651.6,711.3 651.9,722.2 652.2,717.4 652.6,727.2 653.2,721.5 654.0,726.2 654.8,717.2 655.6,717.9 656.4,710.8 657.6,717.7 659.0,711.4 660.5,722.1 661.9,716.0 663.4,721.5 665.0,711.1 666.4,720.5 667.5,713.5 668.6,723.1 669.7,719.9 670.8,728.3 671.9,722.6 672.2,731.8 672.4,725.3 672.6,734.5 672.8,732.2 673.1,740.3 673.3,735.2 673.5,746.0 673.7,738.3 673.9,747.7 675.5,742.0 677.6,750.7 679.7,743.4 681.4,751.4 682.9,746.8 684.4,755.5 685.9,749.3 687.1,755.2 688.0,745.9 689.0,751.5 690.2,744.4 691.8,754.5 693.4,749.3 695.1,757.8 696.7,751.0 697.3,761.5 697.8,755.3 698.4,766.8 698.9,761.1 699.5,769.9 700.1,763.3 701.2,770.9 702.4,766.1 703.5,774.6 704.6,770.6 705.7,778.6 706.7,773.3 707.7,778.4 708.7,767.8 709.7,775.5 711.1,766.5 712.8,776.7 714.5,769.0 716.6,775.9 718.8,769.3 719.5,779.5 720.0,772.7 720.5,781.6 721.0,776.8 721.5,786.1 722.1,782.2 722.7,791.7 723.7,786.0 724.6,794.6 725.6,790.9 726.6,798.1 727.5,794.9 729.7,801.2 731.7,792.7 732.3,802.4 732.8,798.0 733.4,806.7 734.0,803.0 734.5,811.4 736.2,808.3 738.0,815.4 739.8,810.4 741.7,819.5 743.5,813.9 743.9,820.6 744.1,818.5 744.3,825.1 744.4,822.3 744.6,831.5 744.7,824.3 744.9,833.7 745.1,829.4 745.2,837.8 745.4,832.5 745.5,842.8 745.7,835.2 745.9,844.1 747.5,840.3 749.6,847.8 751.8,841.2 753.9,848.9 754.7,842.7 755.3,851.1 756.0,848.0 756.7,858.0 757.4,853.5 758.1,860.5 759.9,856.0 761.7,863.6 763.5,859.4 765.3,866.7 766.5,864.0 767.0,871.0 767.4,865.6 767.9,875.4 768.4,870.4 768.9,880.3 769.3,875.9 769.8,885.2 770.3,877.8 771.6,883.8 773.2,876.7 774.7,880.1 776.3,872.5 777.8,880.3 779.0,872.4 779.9,881.2 780.7,875.8 781.6,883.7 782.5,878.5 783.3,887.0 784.5,883.4 786.0,888.4 787.5,878.8 789.1,883.9 790.2,875.9 790.8,885.8 791.5,881.1 792.1,889.1 792.8,885.9 793.4,895.1 794.1,892.5 794.9,897.6 795.7,888.3 796.5,893.4 797.3,882.9 798.1,887.7 798.9,877.6 799.7,882.1 801.2,875.5 803.2,880.3 805.2,870.9 807.3,878.6 809.1,868.7 810.6,874.9 812.2,867.1 813.8,872.4 815.4,863.0 815.8,872.9 816.1,868.7 816.5,879.9 816.9,874.6 817.2,881.3 817.6,879.0 818.0,887.1 818.4,882.6 820.4,890.5 822.5,884.0 824.7,891.1 826.1,884.4 826.9,893.6 827.6,887.6 828.4,895.2 829.2,891.6 830.0,900.9 830.9,895.5 832.8,904.0 834.6,896.2 836.4,900.8 837.8,891.9 838.9,897.6 840.0,888.2 840.6,895.8 841.1,890.0 841.7,899.8 842.2,895.2 842.8,904.6 843.3,900.7 843.9,909.2 844.6,903.5 845.3,913.5 845.9,909.4 846.6,916.1 847.5,909.7 848.6,916.8 849.7,909.6 850.8,912.3 851.9,903.5 853.0,908.9 854.7,902.1 856.6,910.7 858.6,902.9 860.6,909.8 862.1,905.6 863.2,914.0 864.4,909.3 865.5,920.3 866.7,915.8 868.0,924.1 870.2,918.1 872.3,924.6 874.4,917.8 876.6,922.2 878.6,914.9 880.7,923.1 882.0,914.2 882.1,924.1 882.2,919.3 882.3,927.5 882.4,923.5 882.5,933.5 882.6,928.2 882.7,935.6 882.8,932.8 882.9,941.0 883.1,936.6 885.2,943.9 887.3,941.2 889.4,946.4 891.5,939.5 893.6,947.3 895.7,939.3 897.7,947.5 899.6,938.2 900.6,947.8 900.9,944.4 901.2,950.6 901.5,947.5 901.8,954.9 902.1,952.0 902.4,959.5 902.7,954.4 903.0,966.8 903.3,960.5 904.1,968.5 905.4,960.7 906.7,964.4 908.1,957.1 909.4,960.6 910.0,956.0 910.5,965.8 910.9,960.2 911.4,969.2 911.9,963.5 912.4,975.4 912.8,970.2 913.3,977.3 914.0,971.4 915.7,980.1 917.3,976.0 919.0,984.5 920.7,977.9 921.9,989.1 923.1,983.0 924.2,990.4 925.4,987.1 926.2,992.6 926.8,985.3 927.3,990.5 927.8,979.9 928.3,983.7 928.9,976.7 930.0,978.6 931.4,968.9 932.8,975.5 934.2,967.2 934.7,976.7 935.2,973.6 935.6,982.8 936.1,977.8 936.6,985.7 937.1,981.3 937.6,990.1 938.0,985.5 939.1,995.4 941.0,987.6 942.9,991.4 944.9,983.8 947.0,989.7 949.2,981.8 951.4,989.2 952.1,983.2 952.6,993.5 953.1,988.2 953.6,996.0 954.1,993.4 954.6,1002.5 955.3,995.8 956.1,1000.9 956.8,990.7 957.6,996.1 958.3,987.5 959.7,990.9 961.9,985.8 964.1,992.5 965.6,983.7 966.8,990.0 967.9,981.3 969.1,984.6 970.3,973.5 971.6,980.9 973.0,972.8 974.3,980.2 975.6,968.7 976.7,977.4 977.5,972.3 978.3,980.9 979.1,974.9 979.9,985.2 981.0,979.2 982.3,988.4 983.6,984.0 984.9,992.0 986.2,987.5 988.3,993.2 990.5,986.9 992.7,993.6 994.6,984.7 996.3,995.0 998.0,989.3 999.7,998.6 1001.6,995.2 1003.8,1000.6 1006.0,994.1 1007.0,1000.6 1007.2,995.3 1007.5,1004.8 1007.7,998.8 1007.9,1009.1 1008.1,1005.4 1008.4,1014.9 1008.6,1009.1 1008.8,1018.7 1009.3,1013.3 1011.3,1021.5 1013.2,1015.7 1015.2,1023.6 1017.2,1018.7 1018.3,1022.3 1019.5,1013.3 1020.7,1017.9 1021.8,1009.0 1023.0,1014.9 1024.2,1013.4 1025.3,1020.4 1026.5,1017.3 1027.7,1024.4 1029.3,1016.1 1030.8,1019.8 1031.8,1014.0 1032.2,1023.2 1032.7,1017.2 1033.2,1028.0 1033.6,1024.2 1034.1,1030.9 1034.6,1027.1 1036.0,1032.3 1037.6,1023.4 1039.1,1028.1 1040.7,1019.7 1042.8,1028.1 1045.0,1023.9 1047.1,1030.4 1049.3,1023.2 1051.4,1030.2 1053.6,1022.7 1054.4,1032.4 1055.0,1028.1 1055.6,1035.6 1056.1,1031.9 1056.7,1040.0 1057.3,1035.7 1057.8,1045.3 1059.3,1039.9 1061.3,1045.6 1063.2,1038.9 1065.1,1042.7 1066.8,1039.0 1068.5,1045.8 1070.2,1040.1 1071.9,1050.4 1073.8,1041.2 1075.9,1049.5 1077.9,1042.2 1080.0,1050.2 1082.0,1046.9 1084.0,1053.8 1085.9,1047.0 1087.9,1055.3 1089.8,1050.4 1091.7,1055.6 1093.8,1048.1 1095.8,1053.6 1097.8,1045.7 1099.7,1054.5 1101.5,1049.8 1103.2,1056.0 1104.4,1049.9 1105.2,1059.7 1106.1,1053.5 1107.0,1064.4 1107.8,1057.4 1108.7,1067.5 1109.7,1062.7 1111.8,1072.1 1114.0,1064.4 1116.1,1071.5 1118.3,1063.4 1120.4,1073.0 1122.5,1067.0 1124.6,1076.0 1125.4,1070.5 1126.2,1080.0 1127.0,1073.2 1127.7,1083.0 1128.5,1078.8 1129.5,1083.4 1130.6,1074.6 1131.6,1078.0 1132.7,1072.0 1134.1,1077.7 1135.6,1073.3 1137.1,1082.5 1138.6,1077.4 1140.1,1084.5 1141.6,1078.9 1143.6,1083.8 1145.8,1077.4 1147.9,1081.3 1149.6,1075.1 1150.6,1084.2 1151.6,1081.2 1152.5,1087.8 1153.5,1085.4 1154.5,1094.2 1155.7,1089.8 1157.3,1095.5 1158.9,1092.6 1160.5,1098.4 1162.2,1091.0 1163.9,1097.8 1165.6,1088.3 1167.2,1092.9 1168.9,1086.3 1170.2,1094.1 1171.3,1090.0 1172.4,1098.7 1173.5,1092.6 1174.7,1102.5 1175.8,1098.3 1176.2,1106.9 1176.5,1101.7 1176.8,1109.7 1177.1,1105.0 1177.4,1114.9 1177.7,1111.9 1178.2,1117.4 1178.9,1108.1 1179.6,1111.4 1180.3,1103.1 1181.0,1108.1 1181.7,1098.2 1182.4,1103.0 1183.0,1096.2 1184.2,1102.0 1186.4,1093.7 1188.5,1098.5 1190.7,1090.4 1191.5,1101.8 1192.1,1095.6 1192.8,1105.5 1193.4,1101.6 1194.0,1109.1 1194.6,1103.4 1195.9,1110.9 1197.8,1103.9 1199.8,1109.3 1201.5,1102.9 1202.1,1112.0 1202.7,1108.1 1203.3,1116.7 1203.9,1108.5 1204.5,1116.9 1205.1,1115.1 1205.7,1122.0 1206.3,1118.7 1207.5,1123.8 1208.6,1116.0 1209.8,1117.6 1210.9,1109.9 1212.1,1115.2 1213.2,1106.5 1214.7,1113.9 1216.6,1108.5 1218.4,1116.5 1220.3,1110.7 1221.6,1118.3 1222.0,1115.3 1222.5,1122.0 1223.0,1119.7 1223.4,1127.1 1223.9,1121.2 1224.3,1130.7 1224.8,1127.0 1225.3,1135.6 1225.7,1131.8 1226.3,1135.6 1226.9,1129.4 1227.6,1132.9 1228.3,1126.0 1229.0,1130.3 1229.7,1122.3 1230.4,1126.9 1231.1,1116.7 1231.7,1122.7 1233.2,1114.5 1234.9,1120.1 1236.6,1111.0 1238.3,1118.2 1239.7,1109.9 1241.2,1115.4 1242.6,1105.5 1244.0,1109.0 1245.4,1101.4 1246.6,1110.5 1247.9,1104.5 1249.1,1113.1 1250.4,1110.0 1251.4,1115.0 1252.3,1105.9 1253.2,1111.3 1254.1,1101.8 1255.0,1106.8 1256.2,1098.1 1257.9,1104.2 1259.6,1096.8 1261.3,1101.1 1263.0,1093.2 1265.2,1099.5 1267.4,1093.6 1269.6,1099.1 1270.9,1095.6 1271.2,1105.2 1271.5,1100.5 1271.8,1106.7 1272.1,1101.6 1272.4,1112.3 1272.7,1108.6 1273.0,1117.3 1273.3,1111.1 1273.6,1120.2 1274.3,1109.6 1274.9,1114.9 1275.6,1106.8 1276.3,1110.9 1276.9,1103.2 1277.6,1105.8 1278.3,1097.4 1278.9,1103.2 1279.6,1094.2 1280.4,1103.7 1281.2,1100.5 1282.1,1109.1 1283.0,1098.8 1283.9,1104.9 1284.8,1096.3 1285.8,1100.1 1286.7,1090.4 1288.1,1098.1 1289.7,1088.6 1291.3,1094.9 1292.4,1089.7 1293.3,1095.7 1294.2,1094.3 1295.1,1102.1 1296.0,1098.2 1296.9,1105.5 1298.4,1100.8 1300.2,1110.0 1302.1,1103.0 1303.4,1111.1 1304.3,1099.3 1305.1,1106.0 1306.0,1096.2 1306.8,1101.7 1307.7,1092.3 1308.6,1102.6 1309.6,1097.9 1310.6,1106.2 1311.6,1100.8 1312.6,1107.9 1313.5,1101.3 1314.5,1110.3 1315.3,1104.9 1316.2,1115.1 1317.0,1109.8 1317.8,1118.4 1318.4,1116.2 1318.8,1122.9 1319.2,1118.7 1319.6,1129.8 1320.1,1124.1 1321.9,1130.4 1323.6,1122.2 1325.3,1127.8 1326.7,1121.6 1328.2,1131.9 1329.6,1126.0 1331.0,1133.5 1332.4,1125.5 1333.9,1129.9 1335.3,1124.1 1336.7,1126.8 1337.7,1120.6 1338.5,1129.1 1339.4,1125.1 1340.2,1135.4 1341.1,1130.6 1341.9,1139.6 1342.8,1133.9 1343.8,1140.6 1344.8,1130.6 1345.8,1134.5 1346.8,1124.8 1347.8,1130.3 1348.7,1122.5 1349.6,1132.2 1350.4,1128.5 1351.3,1135.8 1352.1,1130.1 1353.8,1137.9 1356.0,1133.0 1358.1,1141.5 1359.4,1135.0 1360.6,1144.4 1361.8,1139.0 1363.1,1147.0 1364.3,1142.1 1365.0,1148.7 1365.5,1144.2 1366.0,1155.1 1366.4,1150.7 1366.9,1159.0 1367.4,1154.8 1367.8,1162.8 1368.2,1159.0 1368.6,1169.7 1368.9,1162.6 1369.3,1172.1 1370.1,1165.8 1371.2,1169.6 1372.2,1160.6 1373.3,1166.5 1374.3,1156.0 1375.7,1162.2 1377.8,1157.9 1380.0,1165.5 1382.1,1157.3 1384.3,1165.7 1385.2,1159.0 1385.9,1169.7 1386.6,1163.7 1387.4,1173.9 1388.1,1167.2 1389.1,1176.9 1390.4,1168.9 1391.6,1180.2 1392.9,1174.3 1394.2,1182.1 1395.8,1178.8 1397.3,1186.1 1398.9,1180.8 1400.5,1189.6 1402.0,1182.6 1403.1,1188.6 1404.2,1178.7 1405.4,1181.8 1406.5,1174.6 1407.7,1179.9 1409.2,1171.6 1410.7,1176.5 1412.2,1169.2 1413.4,1177.4 1414.3,1172.4 1415.1,1181.8 1416.0,1174.5 1416.9,1183.6 1417.7,1179.2 1418.6,1188.5 1419.6,1181.0 1420.7,1190.7 1421.8,1187.1 1422.8,1195.5 1423.9,1188.2 1424.9,1194.6 1426.0,1182.5 1427.0,1190.5 1428.0,1182.2 1429.1,1188.0 1430.1,1179.3 1431.1,1180.5 1432.1,1171.8 1433.1,1177.5 1434.1,1168.9 1434.6,1175.5 1435.1,1174.2 1435.6,1181.6 1436.2,1178.2 1436.7,1188.1 1437.2,1181.5 1437.8,1192.3 1438.3,1186.3 1438.8,1197.3 1439.3,1191.8 1439.8,1199.2 1440.2,1190.3 1440.7,1196.0 1441.1,1186.2 1441.5,1191.1 1441.9,1182.2 1442.3,1187.3 1442.7,1175.9 1443.1,1180.2 1443.5,1171.2 1443.9,1177.2 1444.3,1169.6 1445.9,1176.0 1447.7,1167.8 1449.6,1176.4 1451.4,1171.1 1452.8,1176.0 1454.2,1169.9 1455.5,1173.6 1456.9,1164.7 1458.3,1169.5 1459.0,1163.0 1459.4,1171.4 1459.9,1166.7 1460.4,1176.8 1460.8,1173.0 1461.3,1181.1 1461.8,1176.5 1462.2,1185.8 1462.7,1179.1 1463.2,1190.2 1463.6,1185.2 1464.1,1194.0 1464.6,1187.1 1465.0,1192.5 1465.5,1186.2 1465.9,1189.0 1466.3,1177.0 1466.8,1181.8 1467.2,1171.7 1467.7,1176.3 1468.1,1168.6 1468.6,1173.2 1469.0,1164.6 1469.5,1173.6 1469.9,1168.8 1470.4,1177.5 1470.8,1174.6 1471.3,1182.8 1471.7,1178.9 1472.2,1187.5 1472.6,1181.5 1473.9,1190.7 1476.1,1183.5 1478.1,1189.0 1479.7,1181.8 1481.2,1188.1 1482.8,1178.2 1484.0,1186.9 1484.6,1180.3 1485.2,1189.1 1485.8,1183.7 1486.3,1195.3 1486.9,1188.0 1487.5,1197.7 1488.1,1194.1 1488.7,1202.2 1489.2,1199.0 1489.9,1205.5 1490.7,1194.6 1491.4,1200.8 1492.1,1192.3 1492.9,1196.9 1493.6,1189.1 1494.4,1193.0 1495.3,1185.0 1496.6,1189.7 1497.9,1177.5 1499.3,1183.0 1500.6,1174.5 1501.9,1181.5 1503.1,1172.2 1504.3,1178.0 1505.5,1170.9 1506.8,1176.4 1508.0,1165.7 1509.4,1172.3 1510.9,1164.4 1512.5,1168.0 1514.0,1161.0 1515.2,1168.2 1516.4,1161.2 1517.6,1172.1 1518.8,1165.0 1519.7,1172.4 1520.5,1162.6 1521.3,1169.7 1522.1,1161.1 1522.9,1165.7 1523.9,1154.9 1525.6,1163.0 1527.3,1158.3 1528.5,1165.2 1528.8,1156.0 1529.1,1162.1 1529.4,1154.2 1529.7,1157.1 1530.0,1147.9 1530.3,1152.9 1530.6,1145.0 1530.9,1148.8 1531.9,1142.7 1533.2,1149.8 1534.6,1146.5 1535.9,1155.3 1537.5,1148.3 1539.7,1153.7 1541.9,1150.1 1544.0,1156.5 1545.8,1150.2 1547.5,1157.0 1549.2,1153.2 1550.9,1160.4 1552.3,1153.1 1553.6,1158.4 1555.0,1149.7 1556.1,1155.2 1556.6,1150.8 1557.0,1160.3 1557.5,1155.7 1558.0,1163.4 1558.4,1159.2 1558.9,1167.9 1559.4,1164.3 1560.3,1174.3 1562.3,1165.9 1564.2,1173.6 1566.2,1167.7 1568.0,1176.9 1569.6,1172.5 1571.1,1180.7 1572.7,1177.2 1574.3,1186.1 1576.1,1178.3 1578.2,1182.9 1580.3,1175.2 1580.9,1183.2 1581.2,1179.6 1581.5,1186.7 1581.8,1184.3 1582.2,1193.3 1582.5,1187.1 1582.8,1196.5 1583.1,1192.6 1583.4,1200.2 1583.8,1197.5 1584.2,1205.6 1584.5,1200.9 1584.9,1209.1 1585.8,1199.1 1587.1,1204.7 1588.4,1197.9 1589.7,1202.2 1591.0,1197.3 1592.4,1202.0 1594.5,1193.5 1596.6,1199.9 1598.6,1190.2 1599.1,1194.7 1599.5,1188.0 1600.0,1192.3 1600.4,1185.6 1600.9,1188.1 1601.3,1178.1 1601.8,1182.8 1602.2,1173.9 1602.7,1181.5 1603.3,1170.1 1604.3,1179.8 1605.3,1174.2 1606.3,1183.5 1607.3,1179.2 1608.3,1187.2 1609.3,1181.8 1610.3,1192.4 1611.3,1187.1 1612.3,1194.8 1613.3,1188.9 1614.3,1196.7 1615.3,1193.6 1616.4,1200.1 1617.5,1189.9 1618.7,1195.3 1619.9,1188.8 1621.0,1196.3 1622.2,1191.1 1623.3,1198.4 1624.5,1194.6 1625.3,1201.6 1625.9,1190.1 1626.4,1195.3 1627.0,1185.8 1627.6,1193.9 1628.1,1185.0 1628.7,1187.0 1629.4,1180.2 1630.1,1189.5 1630.9,1186.1 1631.6,1193.7 1632.4,1192.3 1633.1,1201.5 1634.0,1194.3 1635.3,1203.6 1636.6,1196.7 1637.9,1204.5 1639.2,1198.2 1640.8,1206.3 1642.4,1197.8 1644.1,1205.9 1645.7,1195.9 1647.1,1202.0 1648.3,1189.9 1649.6,1197.4 1650.9,1187.0 1652.2,1193.4 1653.1,1188.0 1653.7,1195.7 1654.3,1192.3 1655.0,1201.5 1655.6,1195.6 1656.2,1202.6 1656.9,1200.5 1657.5,1209.2 1658.1,1202.9 1658.9,1210.1 1659.7,1202.1 1660.6,1206.1 1661.5,1195.5 1662.3,1201.2 1663.2,1192.9 1664.0,1198.1 1664.9,1190.4 1665.4,1200.3 1666.0,1193.6 1666.5,1203.3 1667.0,1197.5 1667.5,1208.0 1668.1,1202.7 1668.6,1212.2 1669.2,1205.1 1669.8,1209.3 1670.4,1199.1 1671.1,1206.5 1671.7,1195.6 1672.3,1201.7 1673.0,1191.4 1673.8,1196.7 1675.8,1188.1 1677.8,1195.1 1679.8,1185.3 1681.9,1192.6 1684.0,1184.5 1686.0,1191.9 1687.0,1183.1 1687.4,1185.5 1687.8,1176.0 1688.1,1180.4 1688.5,1172.2 1688.9,1176.8 1689.2,1169.3 1689.6,1171.8 1691.1,1167.6 1692.9,1174.6 1694.8,1168.8 1696.6,1178.1 1698.4,1171.1 1699.9,1178.8 1701.5,1174.8 1703.0,1184.8 1704.6,1179.3 1706.1,1187.6 1707.7,1182.8 1709.2,1190.0 1710.8,1185.5 1712.4,1195.3 1713.9,1189.2 1715.5,1196.9 1717.1,1192.6 1719.0,1197.1 1720.9,1190.0 1722.8,1196.6 1723.4,1187.9 1723.9,1192.2 1724.4,1183.1 1724.9,1187.0 1725.5,1177.6 1725.9,1185.6 1726.4,1181.4 1726.8,1191.4 1727.3,1184.6 1727.8,1192.8 1728.2,1186.9 1728.7,1195.5 1729.1,1190.5 1729.6,1199.5 1730.0,1194.6 1730.5,1206.7 1732.3,1198.7 1734.2,1206.1 1736.2,1196.6 1738.0,1203.7 1738.8,1198.8 1739.6,1207.5 1740.3,1200.1 1741.1,1209.9 1741.9,1204.1 1742.6,1213.8 1743.4,1206.8 1744.2,1211.8 1745.0,1202.9 1745.8,1207.9 1746.6,1197.3 1747.4,1202.2 1748.2,1194.8 1749.0,1200.4 1749.6,1192.3 1750.0,1199.8 1750.5,1195.7 1750.9,1204.6 1751.3,1201.0 1751.8,1211.6 1752.2,1205.3 1752.6,1216.4 1753.1,1212.0 1754.1,1214.5 1755.1,1207.7 1756.0,1212.6 1757.0,1202.9 1758.0,1205.4 1759.0,1196.9 1760.0,1203.3 1762.1,1195.3 1764.3,1203.2 1766.4,1195.3 1768.5,1204.1 1769.5,1201.0 1770.5,1209.9 1771.5,1206.2 1772.5,1215.2 1773.5,1208.8 1774.3,1218.5 1774.9,1213.4 1775.5,1221.7 1776.1,1215.4 1776.7,1224.7 1777.4,1221.7 1778.0,1230.3 1779.8,1223.1 1781.6,1232.6 1783.4,1225.7 1784.7,1232.1 1785.8,1223.0 1787.0,1229.1 1788.2,1219.7 1789.2,1225.6 1790.2,1219.4 1791.2,1230.5 1792.2,1224.2 1793.3,1235.1 1794.9,1225.1 1796.5,1231.0 1798.2,1222.7 1799.2,1230.2 1799.8,1223.6 1800.4,1232.6 1801.0,1229.7 1801.6,1238.4 1802.2,1233.7 1803.1,1240.9 1804.5,1235.1 1806.0,1240.5 1807.4,1229.8 1808.9,1235.5 1810.3,1228.4 1811.6,1233.0 1812.6,1231.0 1813.6,1240.0 1814.6,1235.2 1815.6,1243.7 1817.0,1236.2 1818.5,1241.1 1820.0,1232.4 1821.5,1237.1 1821.8,1230.2 1822.1,1239.6 1822.4,1235.2 1822.6,1244.2 1822.9,1241.3 1823.2,1251.8 1823.4,1245.9 1823.7,1255.1 1824.0,1250.8 1824.2,1259.1 1824.7,1251.7 1825.5,1259.0 1826.3,1247.5 1827.1,1254.5 1827.9,1242.4 1828.7,1246.5 1829.5,1239.2 1830.3,1241.3 1831.2,1233.1 1833.4,1240.1 1835.6,1233.9 1837.8,1240.7 1840.0,1235.8 1841.2,1239.2 1842.5,1230.5 1843.7,1236.6 1844.9,1230.4 1846.2,1235.6 1847.8,1230.1 1849.3,1237.8 1850.9,1232.0 1852.3,1239.6 1853.5,1229.8 1854.7,1234.8 1855.9,1229.2 1857.2,1235.3 1858.8,1229.8 1860.5,1236.4 1862.1,1231.6 1862.9,1238.3 1863.7,1228.4 1864.4,1232.0 1865.1,1223.6 1865.8,1227.2 1867.1,1219.3 1868.6,1229.1 1870.2,1223.2 1872.0,1228.9 1873.9,1222.0 1875.8,1227.0 1877.0,1221.1 1878.2,1232.8 1879.4,1226.3 1880.6,1235.8 1881.8,1230.2 1882.8,1237.7 1883.4,1229.9 1884.0,1233.4 1884.6,1225.4 1885.2,1228.3 1885.8,1218.7 1887.4,1226.8 1889.2,1221.6 1891.0,1229.8 1892.4,1222.0 1893.9,1226.1 1895.3,1218.6 1896.0,1224.1 1896.2,1219.0 1896.4,1228.1 1896.7,1223.1 1898.1,1228.2 1899.4,1219.9 1900.8,1226.9 1902.1,1217.8 1904.0,1223.4 1906.1,1216.7 1907.2,1219.5 1907.5,1212.0 1907.8,1216.4 1908.1,1207.1 1908.4,1210.9 1909.7,1204.6 1911.7,1207.9 1913.7,1201.2 1915.2,1208.1 1916.4,1199.0 1917.6,1203.1 1918.7,1196.0 1919.3,1202.8 1919.7,1199.6 1920.0,1209.1 1920.4,1203.9 1920.8,1213.7 1921.7,1206.0 1923.6,1210.6 1925.5,1202.6 1926.8,1207.1 1927.5,1198.5 1928.2,1204.9 1928.9,1195.3 1929.5,1199.5 1930.8,1193.3 1933.0,1198.1 1935.2,1192.8 1935.8,1200.7 1936.2,1195.2 1936.6,1205.6 1937.0,1201.4 1937.4,1210.8 1938.0,1204.9 1938.7,1207.1 1939.4,1198.2 1940.0,1202.5 1940.7,1195.3 1941.4,1200.6 1942.1,1193.1 1942.8,1197.6 1943.9,1191.3 1944.9,1201.2 1945.9,1195.3 1946.8,1201.2 1947.4,1193.6 1948.0,1196.9 1948.6,1188.4 1949.1,1191.2 1949.7,1183.3 1950.3,1189.5 1950.9,1179.5 1952.2,1187.2 1953.5,1181.9 1954.8,1190.6 1956.3,1183.0 1958.0,1191.4 1959.8,1182.3 1961.5,1188.2 1963.1,1180.0 1964.1,1189.1 1965.0,1182.3 1966.0,1189.9 1967.3,1185.4 1969.5,1192.2 1971.6,1185.2 1973.8,1191.1 1975.7,1186.7 1977.6,1195.1 1979.4,1187.5 1980.3,1197.0 1981.1,1191.9 1981.9,1200.4 1982.8,1198.2 1984.3,1203.1 1986.0,1195.8 1987.7,1200.3 1989.2,1192.5 1990.1,1199.9 1991.0,1196.9 1991.8,1205.9 1992.7,1199.2 1993.6,1209.7 1994.5,1206.5 1995.8,1213.8 1997.9,1207.3 2000.0,1211.5 2001.1,1208.5 2002.2,1217.2 2003.3,1210.5 2004.4,1217.3 2005.3,1211.4 2006.0,1215.0 2006.8,1206.0 2007.5,1211.2 2008.3,1203.1 2009.1,1206.4 2009.8,1200.2 2010.5,1202.8 2011.5,1194.7 2013.5,1202.5 2015.5,1193.5 2017.4,1199.1 2019.0,1190.5 2020.5,1195.4 2021.4,1186.5 2022.4,1189.8 2023.4,1180.7 2024.4,1185.6 2025.3,1176.5 2026.1,1187.0 2026.8,1184.7 2027.5,1191.3 2028.2,1184.9 2028.9,1193.2 2029.8,1186.1 2030.8,1190.6 2031.9,1180.2 2032.9,1185.7 2033.9,1179.5 2035.2,1188.5 2036.5,1183.4 2037.8,1193.2 2039.3,1182.8 2040.9,1187.1 2042.5,1181.1 2044.4,1186.2 2046.4,1177.3 2048.3,1184.2 2049.7,1179.8 2051.0,1188.3 2052.3,1181.6 2053.2,1190.5 2053.7,1180.2 2054.2,1186.7 2054.7,1176.2 2055.1,1180.6 2055.6,1173.7 2056.2,1178.3 2057.0,1172.2 2057.9,1182.7 2058.8,1175.7 2059.6,1184.4 2060.5,1181.6 2061.6,1190.6 2062.7,1184.9 2063.8,1195.2 2064.2,1188.8 2064.5,1196.6 2064.7,1193.4 2065.0,1199.2 2065.2,1197.5 2065.4,1205.9 2065.7,1201.0 2065.9,1209.9 2066.2,1205.7 2066.4,1213.9 2066.7,1208.1 2066.9,1219.1 2067.3,1211.1 2067.7,1214.7 2068.1,1208.3 2068.5,1211.5 2068.9,1201.9 2069.4,1207.2 2069.8,1199.7 2070.2,1201.4 2070.6,1194.7 2071.0,1198.2 2071.8,1193.7 2072.5,1203.5 2073.3,1198.4 2074.0,1207.4 2074.8,1203.7 2075.8,1213.0 2076.0,1203.5 2076.0,1210.9"/>
<polyline class="curve" stroke="#00ff00" points="173.5,1304.7 174.0,1308.8 174.3,1303.1 174.7,1307.1 175.0,1296.2 175.3,1300.9 175.6,1291.2 175.9,1297.5 176.3,1287.9 176.6,1295.1 176.9,1283.4 177.2,1288.0 177.5,1281.2 178.0,1287.0 178.5,1279.9 179.1,1288.2 179.7,1285.5 180.2,1294.8 180.8,1290.2 181.4,1298.5 181.8,1291.8 182.3,1297.5 182.7,1285.9 183.2,1290.2 183.6,1280.8 184.1,1287.6 184.8,1281.0 185.5,1291.1 186.1,1285.8 186.8,1296.5 187.5,1293.4 188.1,1299.6 188.3,1289.9 188.6,1294.8 188.9,1287.0 189.2,1290.3 189.5,1282.1 189.7,1287.3 190.0,1276.9 190.3,1281.4 190.6,1273.0 190.9,1276.7 191.1,1268.3 191.4,1271.5 191.7,1263.6 192.1,1272.6 192.5,1267.2 192.9,1276.0 193.3,1274.1 193.7,1283.6 194.0,1277.7 194.5,1288.1 195.6,1276.6 196.6,1282.1 197.7,1271.8 198.7,1279.0 199.8,1270.3 200.8,1274.5 201.9,1267.4 203.1,1270.6 204.3,1260.8 205.6,1265.2 206.8,1256.9 208.0,1260.1 209.8,1256.8 211.8,1264.5 213.3,1258.5 214.0,1260.7 214.7,1254.2 215.4,1258.1 216.1,1248.1 216.8,1251.2 217.8,1244.5 218.8,1249.6 219.8,1240.0 220.8,1243.8 221.9,1236.1 223.0,1242.7 224.0,1233.7 224.7,1239.2 225.4,1228.8 226.1,1232.2 226.8,1225.6 227.5,1228.2 228.2,1219.9 228.8,1224.6 229.5,1218.7 230.1,1223.5 230.6,1213.9 231.1,1218.6 231.6,1209.5 232.1,1213.0 232.5,1205.3 233.0,1210.4 233.5,1199.4 234.1,1204.2 234.7,1193.4 235.3,1200.6 235.9,1191.5 236.4,1196.5 237.0,1187.0 237.5,1189.8 237.9,1180.6 238.4,1187.2 238.8,1177.5 239.2,1182.8 239.6,1174.6 240.0,1179.1 240.4,1169.5 241.0,1172.6 241.8,1164.7 242.5,1167.9 243.3,1160.5 244.1,1164.1 244.8,1154.4 245.5,1159.7 246.1,1150.6 246.7,1156.2 247.3,1148.8 247.9,1153.0 248.3,1143.8 248.8,1148.9 249.2,1140.0 249.6,1142.5 250.0,1136.0 250.5,1138.9 250.9,1129.9 251.4,1136.2 251.9,1125.0 252.4,1132.0 253.0,1121.4 253.5,1128.1 254.0,1117.9 254.4,1122.2 254.9,1111.9 255.3,1119.2 255.7,1107.4 256.2,1113.4 256.6,1103.6 257.0,1109.1 257.3,1099.1 257.7,1107.0 258.0,1097.3 258.4,1102.7 258.7,1093.3 259.1,1096.0 259.4,1088.0 259.8,1093.1 260.3,1084.5 260.7,1089.3 261.2,1081.1 261.6,1085.4 262.0,1076.7 262.5,1080.7 263.1,1072.4 263.7,1077.3 264.2,1066.7 264.8,1071.6 265.4,1064.8 266.0,1067.8 266.5,1059.4 266.9,1062.0 267.3,1055.1 267.7,1058.8 268.1,1047.8 268.4,1054.0 268.8,1042.8 269.2,1051.0 269.6,1042.1 270.1,1045.4 270.5,1038.2 270.9,1042.3 271.4,1033.3 271.8,1038.0 272.2,1029.3 272.5,1034.2 272.7,1024.4 272.9,1027.8 273.1,1017.9 273.3,1024.9 273.5,1015.7 273.8,1018.3 274.1,1008.5 274.4,1011.9 274.7,1006.5 275.1,1010.8 275.4,1002.3 275.7,1005.7 276.3,998.9 276.8,1000.9 277.4,991.7 278.0,996.8 278.6,986.1 279.2,993.0 279.7,981.4 280.3,985.8 280.9,980.3 281.2,983.3 281.4,977.1 281.7,981.1 281.9,974.2 282.1,977.7 282.4,968.8 282.6,970.4 282.9,961.8 283.1,967.4 283.3,958.6 283.6,963.0 283.8,955.8 284.0,958.2 284.3,948.6 284.5,953.9 284.7,942.7 285.0,949.3 285.6,940.4 286.2,943.3 286.8,934.9 287.5,941.9 288.1,932.6 288.7,939.0 289.4,928.9 290.0,933.2 290.6,926.2 291.2,927.3 291.7,918.4 292.1,923.8 292.6,913.0 293.0,919.5 293.5,910.8 293.9,916.7 294.4,904.7 294.8,910.0 295.3,901.8 295.8,907.0 296.2,899.8 296.7,902.0 297.3,893.0 297.8,899.4 298.4,889.4 298.9,894.6 299.4,887.0 300.0,891.2 300.5,881.6 301.0,887.2 301.5,876.3 301.7,880.8 302.0,872.9 302.2,877.6 302.5,869.4 302.8,875.4 303.0,863.5 303.3,869.7 303.5,858.1 303.8,861.3 304.0,853.3 304.3,858.0 304.5,849.6 304.9,854.1 305.2,845.8 305.5,851.7 305.9,842.0 306.2,845.2 306.5,836.3 306.9,840.8 307.2,830.7 307.6,838.3 307.9,827.6 308.2,832.0 308.6,822.9 309.1,828.1 309.6,820.8 310.1,825.6 310.7,815.7 311.2,818.5 311.7,808.7 312.3,816.1 312.7,806.2 313.1,810.9 313.4,803.9 313.7,807.7 314.0,800.0 314.3,804.7 314.6,794.8 314.9,798.0 315.2,791.6 315.5,794.7 315.8,786.9 316.3,792.4 316.8,781.5 317.3,787.1 317.9,776.1 318.4,779.5 318.9,773.0 319.4,778.5 320.0,769.6 320.5,772.2 321.0,764.1 321.4,768.1 321.9,759.8 322.3,763.3 322.7,756.8 323.2,762.0 323.6,752.7 324.0,757.4 324.5,748.2 324.9,753.3 325.2,742.2 325.5,747.9 325.8,739.6 326.1,741.8 326.4,733.8 326.7,738.6 327.0,732.0 327.3,736.1 327.5,724.4 327.8,728.3 328.2,719.2 328.7,725.3 329.1,716.5 329.6,719.9 330.1,712.9 330.5,719.1 331.0,708.7 331.5,710.9 331.9,703.7 332.4,706.1 332.9,698.9 333.4,704.5 333.9,696.4 334.4,699.5 334.9,691.0 335.4,698.1 335.9,685.4 336.3,690.3 336.8,682.6 337.3,688.3 337.9,678.0 338.6,682.7 339.2,673.1 339.8,675.0 340.5,668.6 341.1,674.1 341.7,664.0 342.4,670.0 343.0,661.2 343.7,666.1 344.7,656.7 345.7,660.8 346.7,650.2 347.6,655.8 348.6,648.4 348.9,655.4 349.2,644.0 349.5,648.7 349.8,639.3 350.1,645.8 350.4,636.1 350.7,638.2 351.0,631.6 351.3,634.6 351.6,626.2 352.1,631.9 352.7,621.9 353.3,626.3 353.9,620.4 354.5,625.0 355.0,614.2 355.6,621.0 356.2,609.5 356.8,614.5 358.7,606.1 360.6,611.8 362.5,605.5 364.1,610.9 364.4,603.3 364.8,607.2 365.1,597.6 365.5,600.8 365.8,591.3 366.2,595.0 366.6,587.1 366.9,591.7 367.4,581.6 367.9,590.0 368.4,579.2 369.0,586.4 369.5,577.5 370.0,583.3 370.5,572.7 371.0,574.6 371.6,566.0 372.3,571.7 372.9,562.8 373.5,567.7 374.1,559.2 374.7,564.8 375.3,554.7 375.9,558.9 376.5,549.6 377.0,555.2 377.5,543.6 378.1,549.9 378.6,541.2 379.2,546.0 379.7,538.0 380.2,541.0 380.8,531.2 381.4,538.0 382.0,529.7 382.6,534.3 383.2,524.9 383.8,531.1 384.4,520.7 385.5,523.9 386.6,515.6 387.8,522.0 388.9,512.4 389.7,518.2 389.9,507.9 390.1,513.2 390.4,505.7 390.6,508.8 390.8,499.3 391.1,502.3 391.3,493.8 391.5,500.8 391.9,491.0 393.0,495.3 394.2,488.8 395.3,492.7 396.5,483.5 397.2,487.0 397.8,480.1 398.4,482.7 399.0,475.0 399.6,477.3 400.2,470.5 400.8,477.4 401.7,467.8 402.5,472.7 403.4,461.4 404.3,467.6 405.1,456.4 406.0,462.2 406.5,452.8 407.0,457.1 407.5,448.5 408.1,454.3 408.6,446.1 409.1,452.3 410.0,443.2 410.8,445.6 411.7,436.0 412.5,441.4 413.3,433.8 414.2,436.0 415.0,429.4 416.4,432.5 417.7,424.5 419.1,429.6 420.5,423.5 421.7,428.0 422.7,420.1 423.7,424.3 424.7,414.9 425.7,420.1 426.6,411.6 427.5,415.4 428.4,406.8 429.3,412.9 430.2,404.0 431.0,408.8 431.7,403.7 432.4,415.2 433.1,410.5 433.8,416.8 434.5,414.1 435.8,420.8 437.5,411.9 439.2,419.9 440.4,413.6 441.3,421.1 442.2,415.8 443.1,425.6 443.9,420.0 444.5,423.1 445.1,415.5 445.6,419.2 446.2,411.2 446.8,415.7 447.4,405.8 447.9,411.2 449.7,406.6 451.7,411.8 453.6,406.5 454.6,415.8 455.2,410.6 455.9,419.7 456.6,414.8 457.3,425.8 458.0,420.6 459.5,428.1 461.1,423.6 462.7,431.7 464.3,425.6 465.5,433.2 466.7,427.9 467.9,436.6 469.1,431.9 470.8,441.6 472.8,432.2 474.8,439.8 476.9,432.2 478.8,435.4 480.8,429.5 482.8,434.7 483.5,431.8 484.2,440.3 484.9,434.8 485.6,443.2 486.3,435.8 487.0,444.6 488.8,436.2 490.6,442.9 492.5,436.3 493.7,442.4 494.6,440.7 495.6,448.6 496.6,444.8 497.5,453.7 499.0,445.6 500.9,452.5 502.8,448.5 504.7,455.8 506.3,452.0 507.8,458.7 509.2,455.2 510.7,463.6 512.1,458.4 513.0,465.4 513.6,462.8 514.3,470.6 514.9,465.9 515.6,474.2 517.6,468.8 519.8,476.5 521.9,471.3 523.2,479.5 523.8,474.6 524.4,482.4 525.0,477.0 525.6,485.6 526.9,479.8 528.6,489.9 530.3,485.3 532.0,493.1 533.7,488.1 535.4,498.2 537.2,489.8 538.9,495.6 540.7,488.1 542.4,494.2 544.1,483.7 544.9,491.6 545.8,486.0 546.7,498.1 547.5,492.8 548.4,503.4 549.7,496.8 551.0,504.2 552.3,499.5 553.6,507.4 555.2,501.1 557.1,509.1 559.0,505.0 560.9,512.3 562.4,506.5 563.6,516.3 564.8,511.4 566.0,521.4 567.4,514.9 569.5,521.8 571.7,515.1 573.8,523.6 575.3,517.7 576.1,524.2 576.8,519.6 577.5,529.2 578.7,523.6 580.5,529.9 582.4,519.7 584.6,527.5 586.8,518.5 588.9,528.1 590.8,520.3 592.7,528.1 594.7,524.4 596.3,529.4 597.7,520.2 599.1,526.2 599.6,521.5 599.7,530.3 599.8,525.9 599.9,534.3 600.0,529.5 600.1,539.0 600.1,536.6 600.2,543.6 600.3,538.5 600.4,546.8 601.4,542.6 603.6,549.1 605.8,544.6 607.4,551.0 608.8,545.8 610.1,553.0 611.4,551.0 612.7,558.3 614.3,551.4 615.8,555.7 617.1,549.5 617.6,556.1 618.1,552.5 618.7,563.0 619.2,555.8 619.8,565.5 621.1,560.1 623.0,565.8 624.6,561.9 625.8,568.6 626.9,562.1 628.1,571.9 629.1,567.7 629.7,578.8 630.4,573.7 631.0,581.0 631.6,574.9 632.5,584.3 633.9,580.0 635.4,588.9 636.9,585.1 638.3,592.1 639.7,586.8 640.7,597.9 641.6,591.2 642.6,601.9 643.6,596.9 644.5,604.9 645.2,598.6 646.0,608.0 646.7,605.0 647.4,615.9 648.1,609.8 648.6,618.6 648.6,613.8 648.6,622.0 648.6,617.3 648.6,625.2 648.6,620.9 648.6,630.6 648.6,623.9 649.4,631.5 650.5,622.9 651.6,628.9 652.7,619.0 653.8,623.7 655.0,615.5 656.9,624.3 658.8,619.0 660.7,625.6 662.6,621.8 664.5,628.5 666.5,622.7 668.4,630.2 670.1,623.6 670.5,633.9 670.8,627.1 671.2,638.3 671.6,633.8 672.0,641.2 672.3,638.2 672.7,648.4 673.1,640.9 673.7,649.4 674.4,646.0 675.1,656.1 675.8,649.8 676.5,660.1 677.2,654.9 678.5,663.2 679.9,659.3 681.3,668.3 682.5,662.3 683.2,670.3 683.8,667.9 684.4,676.1 685.1,669.8 686.0,676.5 687.6,669.9 689.2,671.3 690.7,664.1 692.0,672.1 692.6,668.6 693.3,679.2 693.9,672.9 694.6,681.7 695.2,676.1 695.9,683.1 696.5,679.7 698.1,687.8 700.2,682.1 702.4,687.0 704.3,682.7 706.0,690.3 707.8,682.7 709.6,688.8 711.4,681.4 713.1,688.3 714.0,682.8 714.8,692.3 715.7,687.1 716.6,695.9 717.4,692.6 718.1,700.6 718.8,695.4 719.5,705.1 720.2,702.1 720.9,709.0 721.5,704.9 722.0,711.0 722.6,706.8 723.1,716.2 723.9,709.6 725.3,714.5 726.8,708.3 728.2,710.4 729.1,706.9 729.8,714.2 730.6,710.2 731.3,718.5 732.1,713.6 732.8,723.6 733.6,719.1 734.7,727.0 736.0,718.7 737.2,723.3 738.3,717.3 739.3,723.9 740.3,718.7 741.3,727.4 742.1,723.0 742.8,732.5 743.6,726.6 744.3,736.7 745.0,731.5 745.7,738.8 746.8,731.5 748.4,737.3 749.9,730.4 751.5,736.8 753.1,728.1 754.5,733.6 755.6,728.7 756.8,736.9 758.0,731.7 759.2,741.8 760.3,738.6 762.1,745.1 763.8,741.2 765.5,748.3 766.3,741.4 767.1,752.4 767.9,747.6 768.8,755.4 769.6,750.5 770.4,758.8 772.1,752.0 774.0,756.5 775.8,750.0 777.8,754.8 779.8,747.8 781.8,754.5 783.9,748.8 786.0,756.7 788.2,750.2 789.4,756.4 790.1,752.4 790.8,761.8 791.5,755.7 792.1,765.1 792.8,759.6 793.6,764.2 794.4,755.8 795.3,761.3 796.1,751.1 796.9,755.8 797.7,750.2 799.5,756.1 801.6,748.1 803.8,756.8 805.9,750.3 807.1,760.1 808.2,755.5 809.4,763.9 810.5,759.0 811.7,766.0 812.5,762.9 813.0,771.5 813.5,767.4 814.0,775.9 814.4,772.7 814.9,780.2 815.4,775.3 815.9,785.3 816.4,778.1 818.1,785.2 819.9,778.0 821.7,782.1 823.2,777.7 824.3,784.1 825.5,779.9 826.7,789.3 827.8,785.0 828.9,792.1 829.5,790.0 830.2,796.8 830.9,792.8 831.6,800.5 832.3,795.0 833.2,804.8 835.0,797.2 836.7,802.3 838.0,796.5 838.5,804.4 839.0,798.0 839.5,807.0 840.0,801.8 840.4,810.5 840.9,807.8 841.4,815.4 841.9,812.9 843.6,819.9 845.8,812.5 848.0,820.6 848.7,815.7 849.4,823.4 850.1,817.1 850.9,826.0 851.6,822.1 852.3,831.2 853.3,827.5 854.3,835.0 855.2,830.0 856.2,840.5 857.9,831.1 859.5,837.4 861.2,829.0 861.8,839.7 862.1,833.5 862.5,844.0 862.8,838.3 863.2,846.4 863.5,840.2 863.9,849.9 864.2,846.8 864.9,857.2 866.5,851.0 868.1,859.7 869.6,851.4 871.0,860.4 872.0,856.2 873.0,863.2 873.9,858.5 874.9,868.3 875.9,863.4 877.2,867.3 878.5,857.1 879.8,863.5 881.0,858.0 881.8,863.5 882.5,853.6 883.3,857.2 884.0,847.0 884.8,852.8 885.4,849.1 885.9,858.2 886.4,853.0 886.9,860.1 887.4,854.9 888.0,864.2 888.5,858.9 889.0,868.5 890.2,861.0 891.4,864.5 892.5,856.7 893.7,861.8 895.3,853.4 897.1,858.4 898.9,850.5 900.7,855.9 902.5,844.8 904.3,853.1 905.8,846.4 907.2,855.0 908.7,851.4 910.1,857.4 911.6,853.6 913.0,859.6 914.5,848.5 916.0,856.4 917.4,847.3 918.9,852.1 920.6,846.6 922.7,851.4 924.8,844.4 927.0,851.4 928.6,847.3 929.8,856.7 931.0,851.4 932.2,860.4 933.2,854.8 933.5,863.7 933.8,860.8 934.2,870.7 934.5,866.1 934.8,873.4 935.1,867.9 936.1,874.6 937.7,866.6 939.3,869.7 940.9,862.1 942.4,867.1 944.1,860.1 945.8,867.3 947.6,859.9 949.3,862.9 951.1,855.7 953.0,861.9 954.9,857.5 956.8,866.1 958.7,861.1 959.4,868.5 960.1,864.3 960.7,874.3 961.4,869.1 962.1,878.2 963.5,869.0 964.8,872.9 966.1,866.7 967.5,871.4 969.2,863.0 971.1,869.8 973.1,864.6 975.1,873.8 976.8,866.3 978.3,869.7 979.7,861.2 981.1,863.4 981.6,860.5 981.9,870.5 982.2,866.8 982.6,875.3 982.9,870.6 983.2,879.9 983.6,875.8 983.9,885.6 984.2,880.9 985.3,888.6 987.1,882.2 988.9,889.4 990.8,884.0 992.5,888.1 994.2,881.9 995.9,889.2 997.7,881.7 999.5,892.3 1001.3,883.0 1003.1,890.2 1004.8,885.4 1006.6,892.2 1007.4,888.1 1007.9,898.0 1008.5,893.0 1009.0,904.0 1009.5,897.1 1010.1,908.4 1012.0,899.1 1014.0,906.6 1016.0,899.3 1017.9,904.4 1019.1,898.5 1020.0,904.5 1021.0,899.9 1022.0,909.0 1023.0,904.4 1024.7,911.6 1026.6,908.2 1028.6,916.2 1030.6,911.6 1031.6,919.0 1031.7,913.2 1031.8,922.8 1031.9,918.6 1032.0,928.6 1032.2,922.4 1032.3,932.2 1032.4,926.1 1032.7,934.0 1034.8,929.2 1036.9,934.7 1039.1,925.8 1041.2,932.7 1042.3,927.9 1043.0,935.9 1043.7,931.2 1044.4,941.1 1045.1,936.5 1045.8,946.1 1047.7,939.4 1049.8,944.9 1052.0,935.4 1054.1,944.5 1055.1,939.7 1056.0,947.4 1057.0,945.0 1058.0,954.6 1059.0,949.2 1060.4,953.6 1061.8,944.8 1063.2,949.9 1064.6,942.6 1065.9,950.4 1067.3,945.5 1068.6,955.1 1069.9,949.1 1071.1,952.6 1072.3,944.6 1073.4,952.3 1074.5,943.2 1075.7,948.2 1076.8,939.2 1077.7,949.3 1078.6,945.5 1079.6,952.0 1080.5,948.9 1081.4,957.3 1082.3,952.5 1083.8,960.2 1085.7,950.3 1087.6,956.3 1089.4,947.9 1091.3,955.2 1093.0,949.2 1094.7,957.9 1096.2,951.8 1097.1,956.9 1097.9,947.4 1098.8,951.3 1099.7,941.7 1101.0,946.2 1102.8,937.6 1104.1,944.3 1104.8,940.9 1105.5,950.4 1106.2,945.9 1106.9,955.3 1107.5,952.5 1108.2,959.7 1109.4,955.9 1110.8,964.3 1112.3,960.0 1113.7,965.4 1115.2,962.1 1116.9,969.9 1119.0,961.0 1121.1,967.5 1123.2,960.8 1125.2,967.7 1126.8,960.2 1128.5,969.3 1130.2,964.4 1131.9,970.8 1133.9,965.2 1135.9,971.6 1137.7,965.1 1139.3,970.6 1140.9,963.4 1142.1,970.5 1142.9,965.5 1143.8,975.1 1144.7,968.9 1145.5,978.6 1146.4,973.9 1148.3,979.2 1150.5,973.7 1152.7,980.3 1154.9,974.6 1157.0,981.6 1157.5,975.3 1158.0,977.2 1158.5,971.2 1159.0,973.7 1159.5,964.2 1160.0,969.4 1160.5,960.3 1161.7,967.1 1163.5,960.9 1165.4,968.4 1166.9,961.8 1168.0,966.3 1169.2,956.5 1170.3,962.4 1171.5,956.1 1172.6,960.1 1173.8,950.7 1175.0,960.5 1176.2,954.0 1177.4,961.4 1178.6,957.4 1179.8,966.0 1181.1,961.8 1182.8,969.0 1184.9,959.3 1186.9,968.5 1188.6,960.9 1190.3,969.8 1191.5,960.9 1192.2,967.0 1192.9,960.0 1193.7,962.8 1194.4,956.0 1195.1,960.6 1195.9,951.8 1196.6,955.8 1198.3,948.4 1200.4,957.1 1202.4,949.3 1204.5,958.4 1205.8,948.2 1207.2,952.8 1208.6,946.5 1210.0,950.9 1211.3,943.6 1213.1,950.2 1215.3,940.5 1217.4,948.0 1219.6,937.9 1221.6,947.7 1222.6,943.6 1223.6,953.0 1224.7,946.7 1225.7,956.6 1226.8,950.5 1228.2,958.2 1229.8,953.2 1231.4,960.5 1233.3,952.0 1235.1,957.0 1237.0,950.0 1238.8,956.4 1240.4,949.6 1242.1,954.7 1243.7,946.3 1245.4,953.0 1247.0,942.1 1247.7,952.2 1248.3,945.7 1249.0,956.7 1249.7,951.7 1250.3,960.5 1251.0,953.2 1252.3,961.1 1253.5,950.4 1254.8,956.1 1256.1,949.0 1257.3,953.7 1259.3,947.8 1261.3,954.7 1263.4,947.0 1265.2,955.6 1266.2,950.5 1267.2,958.6 1268.2,953.5 1269.2,964.4 1270.2,959.7 1271.1,968.6 1271.8,963.3 1272.6,971.8 1273.3,965.9 1274.1,973.9 1275.2,967.1 1277.3,975.6 1279.3,965.9 1281.4,972.0 1283.5,966.3 1285.6,972.9 1287.7,964.3 1289.5,973.8 1291.0,969.0 1292.4,977.2 1293.8,971.3 1295.3,979.7 1296.4,975.3 1297.5,984.5 1298.6,979.1 1299.7,989.0 1300.8,981.6 1301.9,989.9 1303.5,982.1 1305.2,988.4 1306.8,978.1 1308.5,984.2 1310.1,974.5 1311.7,981.7 1313.3,977.1 1314.8,986.9 1316.4,980.9 1317.9,988.8 1320.0,982.7 1322.2,989.7 1324.3,985.0 1326.5,992.1 1328.5,984.5 1330.2,992.5 1331.9,983.6 1333.6,989.8 1335.4,981.3 1337.1,986.6 1339.1,981.0 1341.1,988.0 1343.0,979.4 1345.0,989.6 1346.9,984.6 1348.5,990.3 1350.0,981.8 1351.5,985.4 1352.5,979.8 1353.5,987.2 1354.5,984.2 1355.5,994.1 1356.4,988.0 1357.4,996.9 1358.4,992.0 1359.4,999.0 1360.4,988.7 1361.4,993.7 1362.4,986.6 1363.4,991.6 1364.1,985.0 1364.6,992.7 1365.1,988.8 1365.6,998.3 1366.1,994.1 1366.6,1003.7 1367.1,996.9 1367.6,1005.6 1368.7,996.6 1369.8,1003.4 1370.8,993.6 1371.9,999.4 1372.9,993.6 1373.9,1001.6 1375.0,995.6 1376.0,1007.5 1377.0,1002.0 1378.8,1004.4 1380.7,997.5 1382.6,1003.6 1383.0,995.1 1383.4,998.1 1383.8,989.5 1384.1,994.0 1384.5,984.7 1384.9,990.8 1385.2,980.7 1385.6,987.7 1385.9,978.3 1386.3,982.6 1387.4,974.1 1389.3,981.3 1391.2,978.4 1393.0,985.9 1394.7,977.3 1396.4,982.7 1398.1,974.5 1399.8,979.3 1401.0,971.1 1402.2,973.9 1403.5,967.3 1404.7,973.2 1405.9,963.5 1407.1,966.9 1408.2,962.5 1409.3,970.4 1410.4,965.9 1411.5,975.3 1412.6,970.8 1413.7,979.8 1414.8,973.8 1416.7,982.4 1418.8,973.8 1421.0,977.6 1423.1,972.3 1425.2,979.9 1427.4,975.7 1429.5,981.2 1431.6,974.4 1433.7,982.7 1435.8,972.9 1436.6,982.9 1437.3,975.9 1438.0,985.2 1438.6,979.7 1439.3,990.4 1440.7,985.3 1442.7,988.9 1444.8,983.4 1446.8,986.6 1448.5,982.5 1450.2,989.8 1451.9,984.6 1453.6,994.6 1455.3,988.1 1457.2,998.0 1459.1,991.4 1461.0,999.1 1461.7,990.9 1462.0,1001.1 1462.3,998.9 1462.5,1008.1 1462.8,1001.2 1463.1,1012.4 1463.4,1007.1 1464.6,1013.1 1466.1,1005.7 1467.5,1009.0 1469.0,1001.0 1470.4,1007.0 1471.9,1001.7 1473.3,1010.8 1474.8,1006.4 1476.5,1014.8 1478.7,1007.6 1480.4,1015.6 1481.4,1009.0 1482.5,1019.9 1483.5,1013.3 1484.5,1022.2 1485.6,1017.2 1487.4,1023.7 1489.4,1016.0 1491.3,1021.3 1492.2,1010.4 1493.0,1013.6 1493.8,1005.2 1494.6,1011.2 1495.5,1004.8 1496.5,1008.5 1498.0,1005.4 1499.5,1011.5 1500.9,1006.8 1502.4,1017.9 1503.6,1008.5 1504.7,1014.9 1505.7,1004.0 1506.8,1010.5 1507.8,1001.4 1508.6,1006.5 1509.0,1003.7 1509.3,1011.2 1509.7,1006.9 1510.0,1015.3 1510.4,1011.0 1510.7,1020.2 1511.1,1015.7 1511.4,1025.2 1511.8,1021.3 1512.1,1028.4 1513.0,1021.5 1514.3,1025.7 1515.7,1017.0 1517.1,1025.0 1518.4,1016.2 1519.8,1023.3 1520.3,1016.5 1520.9,1027.0 1521.4,1020.5 1522.0,1029.7 1522.5,1023.0 1523.0,1030.9 1523.6,1028.1 1524.1,1038.3 1524.7,1034.1 1525.3,1038.2 1526.0,1026.5 1526.6,1032.5 1527.3,1021.9 1527.9,1026.7 1528.5,1018.5 1529.2,1024.7 1530.0,1017.9 1531.0,1027.0 1531.9,1024.7 1532.8,1033.8 1533.7,1027.7 1534.6,1036.8 1535.5,1031.0 1536.4,1039.7 1537.2,1034.3 1537.8,1039.1 1538.4,1028.5 1538.9,1034.6 1539.5,1024.4 1540.1,1029.2 1540.8,1020.1 1542.6,1029.0 1544.4,1022.2 1546.2,1032.1 1548.0,1026.5 1549.8,1034.6 1551.4,1024.7 1553.0,1029.4 1554.7,1021.9 1556.3,1027.0 1558.1,1024.4 1559.9,1033.0 1561.0,1022.6 1562.1,1029.4 1563.2,1020.6 1564.3,1022.9 1565.4,1015.6 1566.5,1019.9 1567.9,1011.6 1569.9,1019.7 1571.8,1014.0 1573.8,1022.3 1575.7,1015.5 1577.5,1020.9 1579.4,1013.2 1580.8,1018.7 1581.3,1014.6 1581.8,1021.2 1582.3,1018.2 1582.9,1027.3 1583.4,1022.8 1584.1,1028.1 1584.7,1018.8 1585.4,1024.8 1586.1,1015.1 1586.8,1016.1 1587.4,1007.9 1588.1,1014.3 1588.8,1007.6 1590.2,1012.0 1591.9,1006.7 1593.6,1014.2 1595.0,1008.3 1596.3,1014.2 1597.7,1006.2 1599.1,1010.8 1600.4,999.8 1601.1,1010.4 1601.7,1004.3 1602.3,1014.0 1602.9,1009.5 1603.5,1018.4 1604.2,1012.8 1604.8,1022.6 1605.4,1017.8 1605.9,1027.7 1606.4,1023.4 1607.0,1032.3 1607.5,1025.7 1608.0,1035.0 1608.6,1032.1 1609.2,1040.6 1610.3,1031.2 1611.4,1036.4 1612.5,1027.0 1613.7,1031.4 1614.9,1022.9 1616.7,1026.5 1618.6,1018.1 1620.5,1024.4 1622.3,1016.0 1624.1,1026.8 1625.9,1021.0 1627.7,1027.4 1629.2,1023.3 1630.0,1031.9 1630.7,1027.7 1631.4,1033.9 1632.2,1032.6 1632.9,1042.1 1633.6,1037.9 1635.4,1042.6 1637.4,1035.5 1638.5,1044.1 1639.5,1038.7 1640.5,1047.9 1641.5,1041.5 1642.8,1049.1 1644.9,1040.9 1647.1,1047.6 1649.3,1042.6 1651.4,1049.3 1652.6,1044.0 1653.7,1053.8 1654.7,1047.0 1655.8,1056.8 1656.8,1052.9 1657.9,1059.9 1658.7,1053.2 1659.4,1058.8 1660.1,1050.5 1660.8,1053.6 1661.5,1046.4 1662.1,1051.3 1662.8,1042.2 1664.1,1045.7 1665.5,1036.1 1667.0,1041.2 1668.5,1033.0 1669.9,1038.1 1670.7,1030.9 1671.5,1035.4 1672.3,1024.0 1673.0,1030.0 1673.8,1022.1 1674.6,1027.8 1675.4,1019.0 1676.2,1021.8 1677.0,1016.7 1677.9,1027.1 1678.7,1020.6 1679.5,1028.0 1680.4,1022.5 1681.5,1031.1 1683.6,1025.2 1685.7,1032.3 1687.7,1022.9 1689.8,1031.3 1691.6,1024.5 1693.3,1028.8 1695.0,1018.9 1696.8,1021.6 1698.5,1014.9 1700.1,1024.0 1700.6,1020.3 1701.2,1027.7 1701.7,1022.0 1702.2,1031.8 1702.8,1028.4 1703.3,1037.7 1703.9,1032.3 1705.4,1038.4 1707.0,1026.7 1708.5,1033.5 1710.1,1023.5 1711.7,1028.8 1713.9,1022.3 1716.1,1029.7 1718.2,1022.5 1720.3,1028.8 1722.3,1021.5 1724.2,1025.7 1725.4,1019.8 1726.3,1029.9 1727.1,1027.2 1728.0,1036.7 1728.9,1030.1 1729.7,1039.1 1730.7,1033.8 1732.5,1039.8 1734.4,1035.4 1736.1,1043.6 1736.9,1039.2 1737.7,1049.3 1738.5,1044.6 1739.3,1053.6 1740.1,1047.9 1741.3,1051.2 1742.6,1044.1 1743.8,1046.9 1745.0,1039.5 1746.4,1045.8 1748.0,1041.0 1749.6,1048.7 1751.2,1044.0 1751.6,1050.9 1751.8,1044.7 1752.1,1054.6 1752.4,1052.5 1752.6,1063.2 1752.9,1057.1 1754.1,1064.9 1755.8,1058.7 1757.4,1067.1 1759.0,1063.9 1761.0,1066.9 1763.0,1060.9 1765.0,1068.2 1767.0,1061.9 1769.0,1068.3 1771.0,1062.1 1772.5,1069.8 1773.6,1067.5 1774.7,1074.9 1775.8,1070.4 1776.9,1078.3 1778.7,1072.2 1780.7,1077.5 1782.6,1067.6 1784.4,1073.6 1786.2,1065.8 1788.0,1071.6 1789.5,1064.0 1790.3,1072.7 1791.1,1070.3 1791.9,1078.1 1792.7,1073.9 1793.4,1079.2 1794.0,1070.3 1794.7,1074.5 1795.3,1065.2 1795.9,1070.9 1796.5,1063.5 1797.2,1066.4 1797.8,1060.5 1799.2,1067.4 1800.5,1061.9 1801.9,1071.3 1803.2,1066.6 1804.7,1075.3 1806.8,1064.2 1809.0,1072.0 1811.1,1065.5 1813.3,1071.3 1815.1,1064.7 1816.8,1069.2 1818.6,1062.1 1819.8,1067.0 1820.2,1063.5 1820.6,1071.7 1821.0,1065.3 1821.4,1074.7 1821.8,1070.7 1822.2,1080.4 1822.8,1073.4 1824.0,1077.2 1825.1,1068.8 1826.2,1074.5 1827.4,1066.2 1828.5,1071.9 1829.6,1061.5 1830.8,1067.3 1832.2,1063.9 1833.8,1071.0 1835.3,1066.6 1836.9,1074.8 1838.4,1070.5 1840.5,1075.0 1842.5,1067.3 1844.5,1074.1 1845.2,1069.2 1845.8,1078.2 1846.4,1072.9 1847.1,1082.4 1847.7,1079.0 1848.3,1085.2 1849.0,1082.0 1850.3,1084.9 1851.6,1076.1 1853.0,1084.8 1854.3,1075.2 1855.3,1081.4 1856.0,1078.3 1856.7,1085.1 1857.5,1082.1 1858.2,1091.5 1859.3,1086.8 1860.9,1090.3 1862.5,1082.0 1864.1,1088.1 1865.6,1081.4 1867.0,1090.6 1868.4,1085.5 1869.2,1093.4 1869.6,1089.2 1869.9,1097.9 1870.3,1094.9 1870.7,1103.0 1871.0,1098.9 1871.4,1107.0 1871.8,1104.3 1872.3,1112.4 1873.1,1102.9 1874.0,1106.1 1874.8,1098.9 1875.7,1102.5 1876.5,1093.4 1877.8,1098.1 1879.8,1093.7 1881.7,1100.4 1883.1,1094.7 1883.5,1099.4 1883.9,1091.1 1884.3,1094.4 1884.7,1085.3 1885.1,1090.4 1885.5,1078.0 1885.9,1082.8 1887.7,1075.6 1889.9,1081.9 1892.0,1076.2 1893.7,1084.3 1895.5,1076.4 1897.3,1086.9 1899.0,1077.7 1900.8,1085.3 1902.5,1075.4 1904.7,1082.6 1906.9,1074.4 1907.8,1081.3 1908.7,1070.6 1909.5,1076.3 1910.4,1069.3 1911.3,1073.5 1912.4,1067.4 1913.6,1075.7 1914.8,1069.8 1916.0,1080.6 1916.9,1073.9 1917.5,1083.4 1918.0,1077.8 1918.5,1086.7 1919.1,1082.3 1919.6,1091.3 1920.9,1083.2 1922.5,1089.7 1924.0,1081.3 1925.0,1084.6 1926.0,1076.7 1927.1,1081.9 1928.1,1073.0 1928.9,1079.5 1929.6,1075.2 1930.3,1084.6 1931.0,1079.9 1931.7,1088.9 1932.4,1082.9 1933.2,1091.6 1934.9,1086.8 1936.5,1095.2 1938.1,1092.2 1939.0,1095.5 1939.9,1086.3 1940.8,1090.7 1941.7,1084.2 1942.2,1090.9 1942.5,1085.2 1942.9,1093.4 1943.2,1088.4 1943.6,1098.4 1943.9,1093.6 1944.2,1103.1 1945.1,1099.2 1946.0,1107.7 1947.0,1102.4 1948.0,1111.1 1949.2,1102.7 1950.3,1107.3 1951.5,1097.8 1952.6,1105.3 1953.7,1100.3 1954.8,1109.3 1955.9,1102.1 1957.1,1111.0 1958.0,1106.6 1959.0,1117.8 1960.0,1113.1 1961.1,1120.6 1962.6,1115.7 1964.1,1126.2 1965.4,1120.1 1966.4,1127.8 1967.4,1121.1 1968.4,1129.2 1969.5,1120.7 1970.6,1125.5 1971.6,1116.2 1973.6,1123.1 1975.7,1116.3 1976.7,1123.8 1977.7,1119.7 1978.7,1129.2 1980.3,1120.8 1981.8,1123.9 1983.3,1118.5 1984.4,1121.7 1985.3,1112.3 1986.3,1119.2 1987.2,1108.1 1987.7,1117.5 1988.1,1113.0 1988.5,1120.3 1988.8,1114.4 1989.2,1126.1 1989.6,1118.8 1989.9,1130.5 1990.3,1124.2 1990.7,1134.8 1991.0,1127.9 1991.8,1134.1 1992.5,1127.3 1993.2,1130.4 1993.9,1123.1 1994.7,1125.0 1995.4,1116.1 1996.1,1122.8 1996.8,1119.5 1997.5,1126.3 1998.2,1123.8 1998.9,1131.5 1999.6,1122.8 2000.3,1129.1 2000.9,1120.1 2001.6,1122.6 2002.3,1116.2 2002.9,1121.3 2004.3,1111.4 2005.8,1116.7 2007.2,1105.9 2008.3,1109.5 2009.5,1101.5 2010.2,1107.4 2010.6,1099.0 2011.1,1103.8 2011.5,1094.3 2012.0,1099.1 2012.4,1091.1 2012.9,1094.7 2013.1,1089.8 2013.4,1100.4 2013.6,1098.2 2013.9,1106.7 2014.1,1101.5 2014.4,1109.4 2014.6,1104.0 2014.9,1114.2 2015.1,1107.9 2015.4,1118.2 2015.6,1113.7 2016.0,1122.5 2016.9,1111.5 2017.8,1117.4 2018.6,1109.7 2019.5,1111.2 2020.5,1103.5 2022.1,1111.4 2023.8,1101.9 2025.4,1109.1 2026.8,1103.5 2028.2,1110.6 2029.5,1103.3 2030.7,1109.9 2031.9,1100.3 2033.1,1104.6 2034.3,1094.4 2035.3,1104.3 2036.4,1100.3 2037.4,1108.5 2038.5,1104.6 2039.5,1114.9 2041.0,1103.7 2042.6,1109.3 2044.1,1101.1 2045.4,1108.5 2046.8,1100.0 2048.1,1105.1 2049.4,1095.7 2050.7,1099.0 2052.0,1093.5 2053.4,1098.3 2054.8,1088.8 2056.2,1092.5 2057.0,1085.9 2057.4,1087.7 2057.7,1080.2 2058.1,1084.6 2058.4,1075.8 2058.8,1079.8 2059.2,1072.4 2059.6,1081.0 2059.9,1076.4 2060.3,1087.0 2060.7,1083.2 2061.1,1092.5 2061.5,1087.4 2061.9,1094.8 2062.3,1089.4 2062.6,1100.3 2063.3,1090.7 2064.1,1095.3 2064.8,1085.7 2065.6,1089.9 2066.3,1083.7 2067.3,1088.1 2068.3,1078.6 2069.4,1083.8 2070.5,1075.2 2071.5,1083.8 2072.6,1077.3 2073.7,1088.0 2074.8,1082.6 2076.0,1087.7 2076.0,1078.8 2076.0,1087.1"/>
</g>
<!-- legend -->
<g shape-rendering="crispEdges">
<rect x="1599" y="125" width="120" height="7" fill="#000060"/>
<rect x="1599" y="197" width="120" height="6" fill="#ff0000"/>
<rect x="1599" y="268" width="120" height="7" fill="#00ff00"/>
</g>
<text class="leg" x="1748" y="147">HZSM-5</text>
<text class="leg" x="1748" y="218">Ni/HZSM-5</text>
<text class="leg" x="1748" y="290">Ni/DHZSM-5</text>
<!-- tick labels -->
<text class="tick" x="303.500" y="1456" text-anchor="middle">100</text>
<text class="tick" x="825.500" y="1456" text-anchor="middle">200</text>
<text class="tick" x="1346.500" y="1456" text-anchor="middle">300</text>
<text class="tick" x="1868.500" y="1456" text-anchor="middle">400</text>
<!-- axis titles -->
<text class="ax" y="1583" style="font-size:64px"><tspan x="868">Temperature (</tspan><tspan x="1291" y="1551" style="font-size:43px">o</tspan><tspan x="1318" y="1583">C)</tspan></text>
<text class="ax" transform="translate(64,906) rotate(-90)" style="font-size:63.6px">Intensity (A.U.)</text>
</svg>
</body>
</html>
